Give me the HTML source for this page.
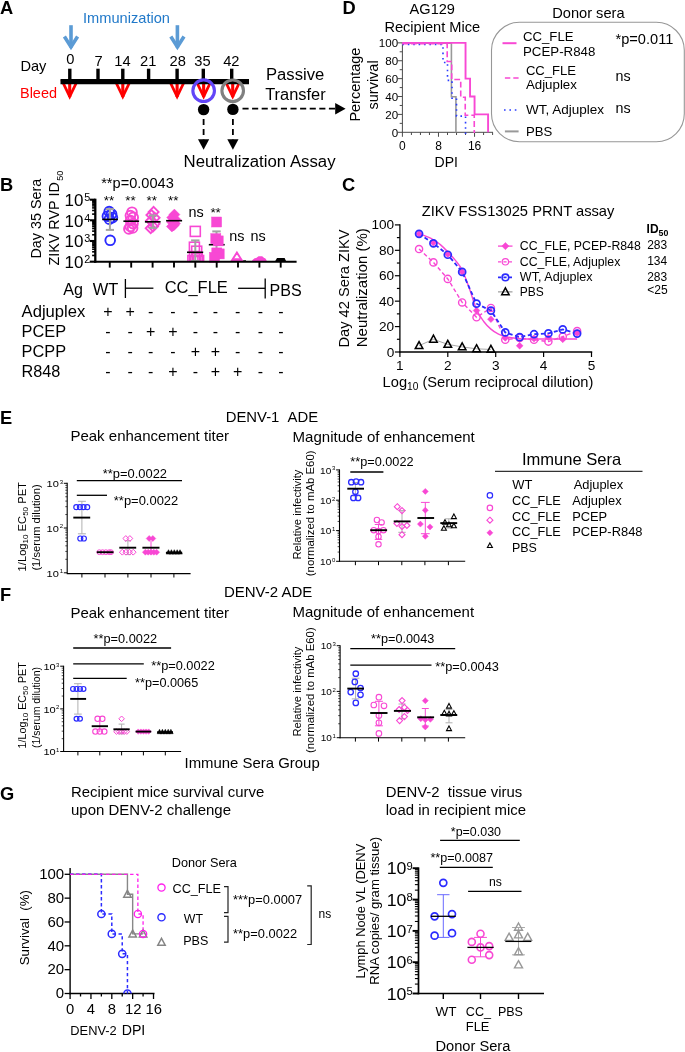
<!DOCTYPE html>
<html><head><meta charset="utf-8"><title>Figure</title>
<style>
html,body{margin:0;padding:0;background:#fff;}
svg{display:block;will-change:transform;}
svg text{font-family:"Liberation Sans",sans-serif;}
</style></head><body>
<svg width="685" height="1052" viewBox="0 0 685 1052">
<rect width="685" height="1052" fill="#fff"/>
<text font-size="18.3" font-weight="bold" x="-0.10" y="13.50">A</text>
<text x="83.00" y="22.60" font-size="14.60" textLength="87.00" lengthAdjust="spacingAndGlyphs" fill="#2179c9">Immunization</text>
<line x1="71.00" y1="25.20" x2="71.00" y2="47.50" stroke="#5b9bd5" stroke-width="3.60"/>
<path d="M64.40,36.5L71.00,46.9L77.60,36.5" fill="none" stroke="#5b9bd5" stroke-width="3.60" stroke-linejoin="miter"/>
<line x1="177.40" y1="25.20" x2="177.40" y2="47.50" stroke="#5b9bd5" stroke-width="3.60"/>
<path d="M170.80,36.5L177.40,46.9L184.00,36.5" fill="none" stroke="#5b9bd5" stroke-width="3.60" stroke-linejoin="miter"/>
<text x="20.40" y="71.40" font-size="14.60" textLength="26.00" lengthAdjust="spacingAndGlyphs">Day</text>
<line x1="69.70" y1="82.00" x2="69.70" y2="97.00" stroke="#ff0000" stroke-width="3.10"/>
<path d="M61.70,80L69.70,96.5L77.70,80" fill="none" stroke="#ff0000" stroke-width="2.80" stroke-linejoin="miter"/>
<line x1="122.80" y1="82.00" x2="122.80" y2="97.00" stroke="#ff0000" stroke-width="3.10"/>
<path d="M114.80,80L122.80,96.5L130.80,80" fill="none" stroke="#ff0000" stroke-width="2.80" stroke-linejoin="miter"/>
<line x1="177.10" y1="82.00" x2="177.10" y2="97.00" stroke="#ff0000" stroke-width="3.10"/>
<path d="M169.10,80L177.10,96.5L185.10,80" fill="none" stroke="#ff0000" stroke-width="2.80" stroke-linejoin="miter"/>
<line x1="203.65" y1="82.00" x2="203.65" y2="97.00" stroke="#ff0000" stroke-width="3.10"/>
<path d="M195.65,80L203.65,96.5L211.65,80" fill="none" stroke="#ff0000" stroke-width="2.80" stroke-linejoin="miter"/>
<line x1="232.70" y1="82.00" x2="232.70" y2="97.00" stroke="#ff0000" stroke-width="3.10"/>
<path d="M224.70,80L232.70,96.5L240.70,80" fill="none" stroke="#ff0000" stroke-width="2.80" stroke-linejoin="miter"/>
<line x1="69.80" y1="68.70" x2="69.80" y2="80.00" stroke="#000" stroke-width="3.40"/>
<text x="70.30" y="63.80" font-size="14.70" text-anchor="middle">0</text>
<line x1="98.00" y1="68.70" x2="98.00" y2="80.00" stroke="#000" stroke-width="3.40"/>
<text x="98.50" y="65.70" font-size="14.70" text-anchor="middle">7</text>
<line x1="122.80" y1="68.70" x2="122.80" y2="80.00" stroke="#000" stroke-width="3.40"/>
<text x="122.40" y="65.70" font-size="14.70" text-anchor="middle">14</text>
<line x1="148.60" y1="68.70" x2="148.60" y2="80.00" stroke="#000" stroke-width="3.40"/>
<text x="148.20" y="66.40" font-size="14.70" text-anchor="middle">21</text>
<line x1="177.10" y1="68.70" x2="177.10" y2="80.00" stroke="#000" stroke-width="3.40"/>
<text x="177.70" y="66.40" font-size="14.70" text-anchor="middle">28</text>
<line x1="203.30" y1="68.70" x2="203.30" y2="80.00" stroke="#000" stroke-width="3.40"/>
<text x="202.50" y="66.40" font-size="14.70" text-anchor="middle">35</text>
<line x1="231.70" y1="68.70" x2="231.70" y2="80.00" stroke="#000" stroke-width="3.40"/>
<text x="231.30" y="66.40" font-size="14.70" text-anchor="middle">42</text>
<line x1="60.50" y1="81.70" x2="249.00" y2="81.70" stroke="#000" stroke-width="5.30"/>
<circle cx="203.65" cy="90.70" r="10.80" fill="none" stroke="#6245f8" stroke-width="3.10"/>
<circle cx="232.70" cy="90.80" r="10.80" fill="none" stroke="#808080" stroke-width="3.10"/>
<text x="20.00" y="98.40" font-size="14.60" textLength="37.00" lengthAdjust="spacingAndGlyphs" fill="#ff0000">Bleed</text>
<circle cx="203.60" cy="109.60" r="5.70" fill="#000" stroke="#000" stroke-width="0.00"/>
<circle cx="232.90" cy="109.40" r="5.70" fill="#000" stroke="#000" stroke-width="0.00"/>
<line x1="242.50" y1="108.70" x2="335.50" y2="108.70" stroke="#000" stroke-width="1.75" stroke-dasharray="6.1,3.5"/>
<path d="M345.6,108.7L335.2,103.0L335.2,114.4Z" fill="#000" stroke="#000" stroke-width="0.00"/>
<line x1="203.60" y1="119.00" x2="203.60" y2="139.50" stroke="#000" stroke-width="1.80" stroke-dasharray="6,4"/>
<path d="M203.60,149.7L198.00,139.3L209.20,139.3Z" fill="#000" stroke="#000" stroke-width="0.00"/>
<line x1="232.90" y1="119.00" x2="232.90" y2="139.50" stroke="#000" stroke-width="1.80" stroke-dasharray="6,4"/>
<path d="M232.90,149.7L227.30,139.3L238.50,139.3Z" fill="#000" stroke="#000" stroke-width="0.00"/>
<text x="266.00" y="79.60" font-size="16.00" textLength="58.20" lengthAdjust="spacingAndGlyphs">Passive</text>
<text x="265.20" y="100.20" font-size="16.00" textLength="60.50" lengthAdjust="spacingAndGlyphs">Transfer</text>
<text x="183.60" y="167.20" font-size="16.00" textLength="152.00" lengthAdjust="spacingAndGlyphs">Neutralization Assay</text>
<text font-size="18.3" font-weight="bold" x="342.50" y="14.00">D</text>
<text x="409.60" y="13.50" font-size="14.50" textLength="45.40" lengthAdjust="spacingAndGlyphs">AG129</text>
<text x="384.40" y="31.80" font-size="14.50" textLength="95.80" lengthAdjust="spacingAndGlyphs">Recipient Mice</text>
<text font-size="14.50" textLength="74.00" lengthAdjust="spacingAndGlyphs" transform="translate(360.30,121.60) rotate(-90)">Percentage</text>
<text font-size="14.50" textLength="49.00" lengthAdjust="spacingAndGlyphs" transform="translate(378.30,109.40) rotate(-90)">survival</text>
<line x1="402.40" y1="42.35" x2="402.40" y2="132.80" stroke="#4a4a4a" stroke-width="1.00"/>
<line x1="401.90" y1="132.30" x2="493.00" y2="132.30" stroke="#4a4a4a" stroke-width="1.00"/>
<line x1="397.90" y1="132.30" x2="402.40" y2="132.30" stroke="#4a4a4a" stroke-width="1.00"/>
<line x1="399.70" y1="123.36" x2="402.40" y2="123.36" stroke="#4a4a4a" stroke-width="1.00"/>
<line x1="397.90" y1="114.41" x2="402.40" y2="114.41" stroke="#4a4a4a" stroke-width="1.00"/>
<line x1="399.70" y1="105.47" x2="402.40" y2="105.47" stroke="#4a4a4a" stroke-width="1.00"/>
<line x1="397.90" y1="96.52" x2="402.40" y2="96.52" stroke="#4a4a4a" stroke-width="1.00"/>
<line x1="399.70" y1="87.58" x2="402.40" y2="87.58" stroke="#4a4a4a" stroke-width="1.00"/>
<line x1="397.90" y1="78.63" x2="402.40" y2="78.63" stroke="#4a4a4a" stroke-width="1.00"/>
<line x1="399.70" y1="69.69" x2="402.40" y2="69.69" stroke="#4a4a4a" stroke-width="1.00"/>
<line x1="397.90" y1="60.74" x2="402.40" y2="60.74" stroke="#4a4a4a" stroke-width="1.00"/>
<line x1="399.70" y1="51.79" x2="402.40" y2="51.79" stroke="#4a4a4a" stroke-width="1.00"/>
<line x1="397.90" y1="42.85" x2="402.40" y2="42.85" stroke="#4a4a4a" stroke-width="1.00"/>
<text x="398.20" y="136.50" font-size="11.60" text-anchor="end">0</text>
<text x="398.20" y="118.61" font-size="11.60" text-anchor="end">20</text>
<text x="398.20" y="100.72" font-size="11.60" text-anchor="end">40</text>
<text x="398.20" y="82.83" font-size="11.60" text-anchor="end">60</text>
<text x="398.20" y="64.94" font-size="11.60" text-anchor="end">80</text>
<text x="398.20" y="47.05" font-size="11.60" text-anchor="end">100</text>
<line x1="402.40" y1="132.30" x2="402.40" y2="136.80" stroke="#4a4a4a" stroke-width="1.00"/>
<line x1="411.42" y1="132.30" x2="411.42" y2="135.00" stroke="#4a4a4a" stroke-width="1.00"/>
<line x1="420.44" y1="132.30" x2="420.44" y2="135.00" stroke="#4a4a4a" stroke-width="1.00"/>
<line x1="429.46" y1="132.30" x2="429.46" y2="135.00" stroke="#4a4a4a" stroke-width="1.00"/>
<line x1="438.48" y1="132.30" x2="438.48" y2="136.80" stroke="#4a4a4a" stroke-width="1.00"/>
<line x1="447.50" y1="132.30" x2="447.50" y2="135.00" stroke="#4a4a4a" stroke-width="1.00"/>
<line x1="456.52" y1="132.30" x2="456.52" y2="135.00" stroke="#4a4a4a" stroke-width="1.00"/>
<line x1="465.54" y1="132.30" x2="465.54" y2="135.00" stroke="#4a4a4a" stroke-width="1.00"/>
<line x1="474.56" y1="132.30" x2="474.56" y2="136.80" stroke="#4a4a4a" stroke-width="1.00"/>
<line x1="483.58" y1="132.30" x2="483.58" y2="135.00" stroke="#4a4a4a" stroke-width="1.00"/>
<line x1="492.60" y1="132.30" x2="492.60" y2="135.00" stroke="#4a4a4a" stroke-width="1.00"/>
<text x="402.40" y="149.60" font-size="12.00" text-anchor="middle">0</text>
<text x="438.48" y="149.60" font-size="12.00" text-anchor="middle">8</text>
<text x="474.56" y="149.60" font-size="12.00" text-anchor="middle">16</text>
<text x="434.60" y="166.70" font-size="14.20" textLength="23.40" lengthAdjust="spacingAndGlyphs">DPI</text>
<path d="M401.80,43.15L451.41,43.15L451.41,96.82L455.92,96.82L455.92,132.60" fill="none" stroke="#999999" stroke-width="1.60" stroke-linejoin="miter"/>
<path d="M402.40,44.55L442.99,44.55L442.99,62.44L447.50,62.44L447.50,80.33L452.01,80.33L452.01,98.22L456.52,98.22L456.52,116.11L465.54,116.11L465.54,134.00" fill="none" stroke="#2a3cff" stroke-width="1.60" stroke-dasharray="1.6,3.8" stroke-linejoin="miter"/>
<path d="M402.10,43.65L447.20,43.65L447.20,61.54L451.71,61.54L451.71,79.43L460.73,79.43L460.73,97.32L465.24,97.32L465.24,115.21L474.26,115.21L474.26,133.10" fill="none" stroke="#f848d4" stroke-width="1.60" stroke-dasharray="5.8,3" stroke-linejoin="miter"/>
<path d="M402.40,42.85L465.54,42.85L465.54,78.63L470.05,78.63L470.05,96.52L474.56,96.52L474.56,114.41L488.09,114.41L488.09,132.30" fill="none" stroke="#f848d4" stroke-width="1.90" stroke-linejoin="miter"/>
<text x="552.20" y="18.10" font-size="14.50" textLength="72.40" lengthAdjust="spacingAndGlyphs">Donor sera</text>
<rect x="491.5" y="22.3" width="192.8" height="119.5" rx="28" ry="28" fill="none" stroke="#979797" stroke-width="1.1"/>
<line x1="502.50" y1="43.20" x2="516.50" y2="43.20" stroke="#f848d4" stroke-width="2.00"/>
<text x="523.00" y="40.90" font-size="13.30" textLength="50.50" lengthAdjust="spacingAndGlyphs">CC_FLE</text>
<text x="523.00" y="55.50" font-size="13.30" textLength="72.40" lengthAdjust="spacingAndGlyphs">PCEP-R848</text>
<text x="615.50" y="44.40" font-size="14.30" textLength="57.80" lengthAdjust="spacingAndGlyphs">*p=0.011</text>
<line x1="504.90" y1="78.00" x2="518.60" y2="78.00" stroke="#f848d4" stroke-width="1.60" stroke-dasharray="5.4,3"/>
<text x="525.90" y="75.30" font-size="13.30" textLength="50.20" lengthAdjust="spacingAndGlyphs">CC_FLE</text>
<text x="525.90" y="89.00" font-size="13.30" textLength="51.00" lengthAdjust="spacingAndGlyphs">Adjuplex</text>
<text x="615.50" y="81.00" font-size="14.30">ns</text>
<line x1="504.00" y1="110.00" x2="518.00" y2="110.00" stroke="#2a3cff" stroke-width="1.60" stroke-dasharray="1.6,3.8"/>
<text x="525.90" y="113.90" font-size="13.30" textLength="78.20" lengthAdjust="spacingAndGlyphs">WT, Adjuplex</text>
<text x="615.50" y="113.00" font-size="14.30">ns</text>
<line x1="504.90" y1="131.40" x2="518.60" y2="131.40" stroke="#999999" stroke-width="2.00"/>
<text x="525.90" y="135.80" font-size="13.30" textLength="26.30" lengthAdjust="spacingAndGlyphs">PBS</text>
<text font-size="18.3" font-weight="bold" x="-0.10" y="191.10">B</text>
<text font-size="14.40" textLength="79.70" lengthAdjust="spacingAndGlyphs" transform="translate(41.30,258.50) rotate(-90)">Day 35 Sera</text>
<text font-size="14.40" textLength="83.40" lengthAdjust="spacingAndGlyphs" transform="translate(59.40,265.60) rotate(-90)">ZIKV RVP ID</text>
<text font-size="9.20" transform="translate(62.90,180.80) rotate(-90)">50</text>
<text x="101.20" y="187.50" font-size="14.60" textLength="72.60" lengthAdjust="spacingAndGlyphs">**p=0.0043</text>
<text x="108.95" y="204.90" font-size="13.40" text-anchor="middle">**</text>
<text x="130.40" y="204.90" font-size="13.40" text-anchor="middle">**</text>
<text x="151.80" y="204.90" font-size="13.40" text-anchor="middle">**</text>
<text x="173.20" y="204.90" font-size="13.40" text-anchor="middle">**</text>
<text x="188.50" y="217.30" font-size="14.40">ns</text>
<text x="210.40" y="216.90" font-size="13.40">**</text>
<text x="229.30" y="241.20" font-size="14.40">ns</text>
<text x="250.60" y="241.20" font-size="14.40">ns</text>
<circle cx="109.20" cy="211.60" r="4.85" fill="none" stroke="#2b2bff" stroke-width="1.90"/>
<circle cx="111.60" cy="214.00" r="4.85" fill="none" stroke="#2b2bff" stroke-width="1.90"/>
<circle cx="107.40" cy="216.20" r="4.85" fill="none" stroke="#2b2bff" stroke-width="1.90"/>
<circle cx="112.40" cy="217.60" r="4.85" fill="none" stroke="#2b2bff" stroke-width="1.90"/>
<circle cx="109.40" cy="219.20" r="4.85" fill="none" stroke="#2b2bff" stroke-width="1.90"/>
<circle cx="110.20" cy="240.30" r="4.85" fill="none" stroke="#2b2bff" stroke-width="1.90"/>
<line x1="109.90" y1="209.10" x2="109.90" y2="229.90" stroke="#a3a3a3" stroke-width="2.00"/>
<line x1="105.80" y1="209.10" x2="114.00" y2="209.10" stroke="#a3a3a3" stroke-width="2.00"/>
<line x1="105.80" y1="229.90" x2="114.00" y2="229.90" stroke="#a3a3a3" stroke-width="2.00"/>
<line x1="102.20" y1="219.40" x2="117.90" y2="219.40" stroke="#000" stroke-width="1.60"/>
<circle cx="132.00" cy="212.20" r="4.85" fill="none" stroke="#f848d4" stroke-width="1.90"/>
<circle cx="130.40" cy="215.60" r="4.85" fill="none" stroke="#f848d4" stroke-width="1.90"/>
<circle cx="133.20" cy="217.40" r="4.85" fill="none" stroke="#f848d4" stroke-width="1.90"/>
<circle cx="130.60" cy="220.60" r="4.85" fill="none" stroke="#f848d4" stroke-width="1.90"/>
<circle cx="133.00" cy="223.60" r="4.85" fill="none" stroke="#f848d4" stroke-width="1.90"/>
<circle cx="130.40" cy="226.40" r="4.85" fill="none" stroke="#f848d4" stroke-width="1.90"/>
<circle cx="128.90" cy="228.90" r="4.85" fill="none" stroke="#f848d4" stroke-width="1.90"/>
<circle cx="132.60" cy="228.00" r="4.85" fill="none" stroke="#f848d4" stroke-width="1.90"/>
<line x1="123.40" y1="221.20" x2="139.10" y2="221.20" stroke="#000" stroke-width="1.60"/>
<path d="M153.60,206.90L158.60,211.90L153.60,216.90L148.60,211.90Z" fill="none" stroke="#f848d4" stroke-width="1.90"/>
<path d="M151.40,210.00L156.40,215.00L151.40,220.00L146.40,215.00Z" fill="none" stroke="#f848d4" stroke-width="1.90"/>
<path d="M154.60,212.80L159.60,217.80L154.60,222.80L149.60,217.80Z" fill="none" stroke="#f848d4" stroke-width="1.90"/>
<path d="M151.00,215.80L156.00,220.80L151.00,225.80L146.00,220.80Z" fill="none" stroke="#f848d4" stroke-width="1.90"/>
<path d="M154.60,218.80L159.60,223.80L154.60,228.80L149.60,223.80Z" fill="none" stroke="#f848d4" stroke-width="1.90"/>
<path d="M153.00,221.40L158.00,226.40L153.00,231.40L148.00,226.40Z" fill="none" stroke="#f848d4" stroke-width="1.90"/>
<path d="M150.70,223.20L155.70,228.20L150.70,233.20L145.70,228.20Z" fill="none" stroke="#f848d4" stroke-width="1.90"/>
<line x1="152.90" y1="215.40" x2="152.90" y2="227.90" stroke="#a3a3a3" stroke-width="2.00"/>
<line x1="148.80" y1="215.40" x2="157.00" y2="215.40" stroke="#a3a3a3" stroke-width="2.00"/>
<line x1="148.80" y1="227.90" x2="157.00" y2="227.90" stroke="#a3a3a3" stroke-width="2.00"/>
<line x1="144.90" y1="221.80" x2="160.60" y2="221.80" stroke="#000" stroke-width="1.70"/>
<path d="M174.40,209.10L179.90,214.60L174.40,220.10L168.90,214.60Z" fill="#f848d4" stroke="#f848d4" stroke-width="0.50"/>
<path d="M172.20,212.10L177.70,217.60L172.20,223.10L166.70,217.60Z" fill="#f848d4" stroke="#f848d4" stroke-width="0.50"/>
<path d="M175.40,213.90L180.90,219.40L175.40,224.90L169.90,219.40Z" fill="#f848d4" stroke="#f848d4" stroke-width="0.50"/>
<path d="M172.00,216.50L177.50,222.00L172.00,227.50L166.50,222.00Z" fill="#f848d4" stroke="#f848d4" stroke-width="0.50"/>
<path d="M175.00,218.10L180.50,223.60L175.00,229.10L169.50,223.60Z" fill="#f848d4" stroke="#f848d4" stroke-width="0.50"/>
<path d="M173.60,219.90L179.10,225.40L173.60,230.90L168.10,225.40Z" fill="#f848d4" stroke="#f848d4" stroke-width="0.50"/>
<path d="M171.90,221.00L177.40,226.50L171.90,232.00L166.40,226.50Z" fill="#f848d4" stroke="#f848d4" stroke-width="0.50"/>
<line x1="166.10" y1="220.70" x2="182.10" y2="220.70" stroke="#000" stroke-width="1.60"/>
<clipPath id="bclip"><rect x="96" y="190" width="205" height="71.8"/></clipPath><g clip-path="url(#bclip)">
<rect x="190.30" y="226.40" width="10.00" height="10.00" fill="none" stroke="#f848d4" stroke-width="1.60"/>
<rect x="189.40" y="242.20" width="10.00" height="10.00" fill="none" stroke="#f848d4" stroke-width="1.60"/>
<rect x="191.70" y="246.20" width="10.00" height="10.00" fill="none" stroke="#f848d4" stroke-width="1.60"/>
<rect x="189.50" y="251.50" width="10.00" height="10.00" fill="none" stroke="#f848d4" stroke-width="1.60"/>
<rect x="192.20" y="253.50" width="10.00" height="10.00" fill="none" stroke="#f848d4" stroke-width="1.60"/>
<rect x="187.90" y="255.50" width="10.00" height="10.00" fill="none" stroke="#f848d4" stroke-width="1.60"/>
<rect x="193.60" y="255.50" width="10.00" height="10.00" fill="none" stroke="#f848d4" stroke-width="1.60"/>
<rect x="190.60" y="256.50" width="10.00" height="10.00" fill="none" stroke="#f848d4" stroke-width="1.60"/>
</g>
<line x1="195.30" y1="240.40" x2="195.30" y2="261.00" stroke="#a3a3a3" stroke-width="2.00"/>
<line x1="191.10" y1="240.40" x2="199.50" y2="240.40" stroke="#a3a3a3" stroke-width="2.00"/>
<line x1="191.10" y1="261.00" x2="199.50" y2="261.00" stroke="#a3a3a3" stroke-width="2.00"/>
<line x1="187.00" y1="252.30" x2="203.20" y2="252.30" stroke="#000" stroke-width="1.60"/>
<line x1="216.50" y1="231.40" x2="216.50" y2="258.00" stroke="#a3a3a3" stroke-width="2.00"/>
<line x1="212.30" y1="231.40" x2="220.70" y2="231.40" stroke="#a3a3a3" stroke-width="2.00"/>
<line x1="212.30" y1="258.00" x2="220.70" y2="258.00" stroke="#a3a3a3" stroke-width="2.00"/>
<line x1="208.80" y1="244.70" x2="224.70" y2="244.70" stroke="#000" stroke-width="1.60"/>
<rect x="211.60" y="217.00" width="10.00" height="10.00" fill="#f848d4" stroke="#f848d4" stroke-width="0.50"/>
<rect x="210.80" y="233.70" width="10.00" height="10.00" fill="#f848d4" stroke="#f848d4" stroke-width="0.50"/>
<rect x="213.20" y="235.90" width="10.00" height="10.00" fill="#f848d4" stroke="#f848d4" stroke-width="0.50"/>
<rect x="211.80" y="247.90" width="10.00" height="10.00" fill="#f848d4" stroke="#f848d4" stroke-width="0.50"/>
<rect x="214.20" y="248.90" width="10.00" height="10.00" fill="#f848d4" stroke="#f848d4" stroke-width="0.50"/>
<rect x="209.50" y="252.40" width="10.00" height="10.00" fill="#f848d4" stroke="#f848d4" stroke-width="0.50"/>
<path d="M236.9,252.6L242.0,260.5L231.8,260.5Z" fill="none" stroke="#f848d4" stroke-width="1.90" stroke-linejoin="miter"/>
<path d="M233.2,258.2L240.6,258.2L242.6,261.6L231.2,261.6Z" fill="#f848d4" stroke="#f848d4" stroke-width="0.00"/>
<line x1="243.20" y1="261.00" x2="246.00" y2="261.00" stroke="#000" stroke-width="1.40"/>
<path d="M252.2,261.8L252.2,260.2L254.6,258.3L256.2,258.1L258.5,256.2L262.2,256.2L264.2,258.1L265.2,258.3L266.6,260.2L266.6,261.8Z" fill="#f848d4" stroke="#f848d4" stroke-width="0.00"/>
<path d="M274.8,261.8L277.0,258.1L284.6,258.1L286.4,261.8Z" fill="#000" stroke="#000" stroke-width="0.00"/>
<line x1="95.30" y1="198.70" x2="95.30" y2="262.70" stroke="#000" stroke-width="2.30"/>
<line x1="94.20" y1="261.80" x2="296.60" y2="261.80" stroke="#000" stroke-width="1.90"/>
<line x1="95.30" y1="199.70" x2="89.70" y2="199.70" stroke="#000" stroke-width="2.10"/>
<line x1="95.30" y1="214.10" x2="92.10" y2="214.10" stroke="#000" stroke-width="1.60"/>
<line x1="95.30" y1="210.47" x2="92.10" y2="210.47" stroke="#000" stroke-width="1.60"/>
<line x1="95.30" y1="207.90" x2="92.10" y2="207.90" stroke="#000" stroke-width="1.60"/>
<line x1="95.30" y1="205.90" x2="92.10" y2="205.90" stroke="#000" stroke-width="1.60"/>
<line x1="95.30" y1="204.27" x2="92.10" y2="204.27" stroke="#000" stroke-width="1.60"/>
<line x1="95.30" y1="202.89" x2="92.10" y2="202.89" stroke="#000" stroke-width="1.60"/>
<line x1="95.30" y1="201.70" x2="92.10" y2="201.70" stroke="#000" stroke-width="1.60"/>
<line x1="95.30" y1="200.64" x2="92.10" y2="200.64" stroke="#000" stroke-width="1.60"/>
<line x1="95.30" y1="220.30" x2="89.70" y2="220.30" stroke="#000" stroke-width="2.10"/>
<line x1="95.30" y1="234.77" x2="92.10" y2="234.77" stroke="#000" stroke-width="1.60"/>
<line x1="95.30" y1="231.12" x2="92.10" y2="231.12" stroke="#000" stroke-width="1.60"/>
<line x1="95.30" y1="228.54" x2="92.10" y2="228.54" stroke="#000" stroke-width="1.60"/>
<line x1="95.30" y1="226.53" x2="92.10" y2="226.53" stroke="#000" stroke-width="1.60"/>
<line x1="95.30" y1="224.89" x2="92.10" y2="224.89" stroke="#000" stroke-width="1.60"/>
<line x1="95.30" y1="223.51" x2="92.10" y2="223.51" stroke="#000" stroke-width="1.60"/>
<line x1="95.30" y1="222.31" x2="92.10" y2="222.31" stroke="#000" stroke-width="1.60"/>
<line x1="95.30" y1="221.25" x2="92.10" y2="221.25" stroke="#000" stroke-width="1.60"/>
<line x1="95.30" y1="241.00" x2="89.70" y2="241.00" stroke="#000" stroke-width="2.10"/>
<line x1="95.30" y1="255.47" x2="92.10" y2="255.47" stroke="#000" stroke-width="1.60"/>
<line x1="95.30" y1="251.82" x2="92.10" y2="251.82" stroke="#000" stroke-width="1.60"/>
<line x1="95.30" y1="249.24" x2="92.10" y2="249.24" stroke="#000" stroke-width="1.60"/>
<line x1="95.30" y1="247.23" x2="92.10" y2="247.23" stroke="#000" stroke-width="1.60"/>
<line x1="95.30" y1="245.59" x2="92.10" y2="245.59" stroke="#000" stroke-width="1.60"/>
<line x1="95.30" y1="244.21" x2="92.10" y2="244.21" stroke="#000" stroke-width="1.60"/>
<line x1="95.30" y1="243.01" x2="92.10" y2="243.01" stroke="#000" stroke-width="1.60"/>
<line x1="95.30" y1="241.95" x2="92.10" y2="241.95" stroke="#000" stroke-width="1.60"/>
<line x1="95.30" y1="261.70" x2="89.70" y2="261.70" stroke="#000" stroke-width="2.10"/>
<text x="64.50" y="206.00" font-size="15.80" textLength="18.90" lengthAdjust="spacingAndGlyphs">10</text>
<text x="84.20" y="200.90" font-size="10.80">5</text>
<text x="64.50" y="226.60" font-size="15.80" textLength="18.90" lengthAdjust="spacingAndGlyphs">10</text>
<text x="84.20" y="221.50" font-size="10.80">4</text>
<text x="64.50" y="247.30" font-size="15.80" textLength="18.90" lengthAdjust="spacingAndGlyphs">10</text>
<text x="84.20" y="242.20" font-size="10.80">3</text>
<text x="64.50" y="268.00" font-size="15.80" textLength="18.90" lengthAdjust="spacingAndGlyphs">10</text>
<text x="84.20" y="262.90" font-size="10.80">2</text>
<line x1="109.75" y1="261.70" x2="109.75" y2="267.60" stroke="#000" stroke-width="1.90"/>
<line x1="131.20" y1="261.70" x2="131.20" y2="267.60" stroke="#000" stroke-width="1.90"/>
<line x1="152.60" y1="261.70" x2="152.60" y2="267.60" stroke="#000" stroke-width="1.90"/>
<line x1="174.00" y1="261.70" x2="174.00" y2="267.60" stroke="#000" stroke-width="1.90"/>
<line x1="195.30" y1="261.70" x2="195.30" y2="267.60" stroke="#000" stroke-width="1.90"/>
<line x1="216.70" y1="261.70" x2="216.70" y2="267.60" stroke="#000" stroke-width="1.90"/>
<line x1="238.00" y1="261.70" x2="238.00" y2="267.60" stroke="#000" stroke-width="1.90"/>
<line x1="259.40" y1="261.70" x2="259.40" y2="267.60" stroke="#000" stroke-width="1.90"/>
<line x1="280.70" y1="261.70" x2="280.70" y2="267.60" stroke="#000" stroke-width="1.90"/>
<text x="63.20" y="295.10" font-size="16.00" textLength="19.70" lengthAdjust="spacingAndGlyphs">Ag</text>
<text x="92.80" y="295.10" font-size="16.00" textLength="25.60" lengthAdjust="spacingAndGlyphs">WT</text>
<line x1="125.40" y1="279.00" x2="125.40" y2="298.00" stroke="#000" stroke-width="1.30"/>
<line x1="125.40" y1="288.20" x2="153.40" y2="288.20" stroke="#000" stroke-width="1.30"/>
<text x="164.70" y="293.40" font-size="16.00" textLength="63.10" lengthAdjust="spacingAndGlyphs">CC_FLE</text>
<line x1="238.10" y1="288.30" x2="265.20" y2="288.30" stroke="#000" stroke-width="1.30"/>
<line x1="265.20" y1="278.50" x2="265.20" y2="298.40" stroke="#000" stroke-width="1.30"/>
<text x="269.60" y="295.60" font-size="16.00" textLength="32.20" lengthAdjust="spacingAndGlyphs">PBS</text>
<text x="21.60" y="316.60" font-size="16.00" textLength="63.70" lengthAdjust="spacingAndGlyphs">Adjuplex</text>
<text x="108.00" y="316.90" font-size="16.00" text-anchor="middle">+</text>
<text x="130.10" y="316.90" font-size="16.00" text-anchor="middle">+</text>
<text x="150.70" y="316.90" font-size="16.00" text-anchor="middle">-</text>
<text x="172.90" y="316.90" font-size="16.00" text-anchor="middle">-</text>
<text x="195.50" y="316.90" font-size="16.00" text-anchor="middle">-</text>
<text x="215.40" y="316.90" font-size="16.00" text-anchor="middle">-</text>
<text x="237.60" y="316.90" font-size="16.00" text-anchor="middle">-</text>
<text x="260.30" y="316.90" font-size="16.00" text-anchor="middle">-</text>
<text x="280.80" y="316.90" font-size="16.00" text-anchor="middle">-</text>
<text x="21.60" y="336.50" font-size="16.00" textLength="44.50" lengthAdjust="spacingAndGlyphs">PCEP</text>
<text x="108.00" y="336.80" font-size="16.00" text-anchor="middle">-</text>
<text x="130.10" y="336.80" font-size="16.00" text-anchor="middle">-</text>
<text x="150.70" y="336.80" font-size="16.00" text-anchor="middle">+</text>
<text x="172.90" y="336.80" font-size="16.00" text-anchor="middle">+</text>
<text x="195.50" y="336.80" font-size="16.00" text-anchor="middle">-</text>
<text x="215.40" y="336.80" font-size="16.00" text-anchor="middle">-</text>
<text x="237.60" y="336.80" font-size="16.00" text-anchor="middle">-</text>
<text x="260.30" y="336.80" font-size="16.00" text-anchor="middle">-</text>
<text x="280.80" y="336.80" font-size="16.00" text-anchor="middle">-</text>
<text x="21.60" y="356.50" font-size="16.00" textLength="44.50" lengthAdjust="spacingAndGlyphs">PCPP</text>
<text x="108.00" y="356.80" font-size="16.00" text-anchor="middle">-</text>
<text x="130.10" y="356.80" font-size="16.00" text-anchor="middle">-</text>
<text x="150.70" y="356.80" font-size="16.00" text-anchor="middle">-</text>
<text x="172.90" y="356.80" font-size="16.00" text-anchor="middle">-</text>
<text x="195.50" y="356.80" font-size="16.00" text-anchor="middle">+</text>
<text x="215.40" y="356.80" font-size="16.00" text-anchor="middle">+</text>
<text x="237.60" y="356.80" font-size="16.00" text-anchor="middle">-</text>
<text x="260.30" y="356.80" font-size="16.00" text-anchor="middle">-</text>
<text x="280.80" y="356.80" font-size="16.00" text-anchor="middle">-</text>
<text x="21.60" y="376.60" font-size="16.00" textLength="38.80" lengthAdjust="spacingAndGlyphs">R848</text>
<text x="108.00" y="376.90" font-size="16.00" text-anchor="middle">-</text>
<text x="130.10" y="376.90" font-size="16.00" text-anchor="middle">-</text>
<text x="150.70" y="376.90" font-size="16.00" text-anchor="middle">-</text>
<text x="172.90" y="376.90" font-size="16.00" text-anchor="middle">+</text>
<text x="195.50" y="376.90" font-size="16.00" text-anchor="middle">-</text>
<text x="215.40" y="376.90" font-size="16.00" text-anchor="middle">+</text>
<text x="237.60" y="376.90" font-size="16.00" text-anchor="middle">+</text>
<text x="260.30" y="376.90" font-size="16.00" text-anchor="middle">-</text>
<text x="280.80" y="376.90" font-size="16.00" text-anchor="middle">-</text>
<text font-size="18.3" font-weight="bold" x="342.10" y="191.40">C</text>
<text x="421.80" y="216.30" font-size="14.60" textLength="192.60" lengthAdjust="spacingAndGlyphs">ZIKV FSS13025 PRNT assay</text>
<text font-size="14.60" textLength="118.20" lengthAdjust="spacingAndGlyphs" transform="translate(348.60,347.60) rotate(-90)">Day 42 Sera ZIKV</text>
<text font-size="14.60" textLength="118.90" lengthAdjust="spacingAndGlyphs" transform="translate(366.90,347.20) rotate(-90)">Neutralization (%)</text>
<line x1="399.90" y1="224.30" x2="399.90" y2="352.60" stroke="#000" stroke-width="1.30"/>
<line x1="399.30" y1="352.00" x2="592.20" y2="352.00" stroke="#000" stroke-width="1.30"/>
<line x1="394.90" y1="352.00" x2="399.90" y2="352.00" stroke="#000" stroke-width="1.20"/>
<line x1="396.90" y1="339.29" x2="399.90" y2="339.29" stroke="#000" stroke-width="1.20"/>
<line x1="394.90" y1="326.58" x2="399.90" y2="326.58" stroke="#000" stroke-width="1.20"/>
<line x1="396.90" y1="313.87" x2="399.90" y2="313.87" stroke="#000" stroke-width="1.20"/>
<line x1="394.90" y1="301.16" x2="399.90" y2="301.16" stroke="#000" stroke-width="1.20"/>
<line x1="396.90" y1="288.45" x2="399.90" y2="288.45" stroke="#000" stroke-width="1.20"/>
<line x1="394.90" y1="275.74" x2="399.90" y2="275.74" stroke="#000" stroke-width="1.20"/>
<line x1="396.90" y1="263.03" x2="399.90" y2="263.03" stroke="#000" stroke-width="1.20"/>
<line x1="394.90" y1="250.32" x2="399.90" y2="250.32" stroke="#000" stroke-width="1.20"/>
<line x1="396.90" y1="237.61" x2="399.90" y2="237.61" stroke="#000" stroke-width="1.20"/>
<line x1="394.90" y1="224.90" x2="399.90" y2="224.90" stroke="#000" stroke-width="1.20"/>
<text x="394.20" y="356.50" font-size="13.60" text-anchor="end">0</text>
<text x="394.20" y="331.08" font-size="13.60" text-anchor="end">20</text>
<text x="394.20" y="305.66" font-size="13.60" text-anchor="end">40</text>
<text x="394.20" y="280.24" font-size="13.60" text-anchor="end">60</text>
<text x="394.20" y="254.82" font-size="13.60" text-anchor="end">80</text>
<text x="394.20" y="229.40" font-size="13.60" text-anchor="end">100</text>
<line x1="399.90" y1="352.00" x2="399.90" y2="357.00" stroke="#000" stroke-width="1.20"/>
<text x="399.90" y="370.10" font-size="13.60" text-anchor="middle">1</text>
<line x1="447.80" y1="352.00" x2="447.80" y2="357.00" stroke="#000" stroke-width="1.20"/>
<text x="447.80" y="370.10" font-size="13.60" text-anchor="middle">2</text>
<line x1="495.70" y1="352.00" x2="495.70" y2="357.00" stroke="#000" stroke-width="1.20"/>
<text x="495.70" y="370.10" font-size="13.60" text-anchor="middle">3</text>
<line x1="543.60" y1="352.00" x2="543.60" y2="357.00" stroke="#000" stroke-width="1.20"/>
<text x="543.60" y="370.10" font-size="13.60" text-anchor="middle">4</text>
<line x1="591.50" y1="352.00" x2="591.50" y2="357.00" stroke="#000" stroke-width="1.20"/>
<text x="591.50" y="370.10" font-size="13.60" text-anchor="middle">5</text>
<text x="382.6" y="386.8" font-size="14.7" textLength="210.8" lengthAdjust="spacingAndGlyphs">Log<tspan font-size="10.2" dy="3">10</tspan><tspan dy="-3"> (Serum reciprocal dilution)</tspan></text>
<path d="M419.06,345.64L433.43,339.29L447.80,344.37L462.17,346.92L476.54,348.82L490.91,349.46" fill="none" stroke="#aaaaaa" stroke-width="1.00"/>
<path d="M419.06,233.42C420.26,233.90 423.85,235.28 426.25,236.34C428.64,237.40 431.03,238.35 433.43,239.77C435.82,241.19 438.22,242.84 440.62,244.85C443.01,246.87 445.40,249.35 447.80,251.85C450.19,254.34 452.59,256.82 454.98,259.85C457.38,262.88 459.77,265.25 462.17,270.02C464.56,274.79 466.96,281.88 469.36,288.45C471.75,295.02 474.14,303.91 476.54,309.42C478.93,314.93 481.33,318.21 483.72,321.50C486.12,324.78 488.51,327.05 490.91,329.12C493.30,331.20 495.70,332.68 498.09,333.95C500.49,335.22 501.69,335.94 505.28,336.75C508.87,337.55 514.86,338.40 519.65,338.78C524.44,339.16 524.44,338.99 534.02,339.04C543.60,339.08 569.94,339.04 577.13,339.04" fill="none" stroke="#f848d4" stroke-width="1.40"/>
<path d="M419.06,249.05L433.43,262.39L447.80,278.92L462.17,302.43L476.54,317.30L490.91,308.02L505.28,339.80L519.65,337.89L534.02,339.80L548.39,341.58L562.76,336.62L577.13,331.16" fill="none" stroke="#f848d4" stroke-width="1.40" stroke-dasharray="4,2.6"/>
<path d="M419.06,233.80L433.43,243.33L447.80,254.77L462.17,271.93L476.54,303.70L490.91,310.57L505.28,332.43L519.65,337.13L534.02,334.21L548.39,333.44L562.76,329.38L577.13,333.57" fill="none" stroke="#2b2bff" stroke-width="1.80" stroke-dasharray="4,2.6"/>
<path d="M419.06,230.40L422.46,233.80L419.06,237.20L415.66,233.80Z" fill="#f848d4" stroke="#f848d4" stroke-width="0.50"/>
<path d="M433.43,239.29L436.83,242.69L433.43,246.09L430.03,242.69Z" fill="#f848d4" stroke="#f848d4" stroke-width="0.50"/>
<path d="M447.80,250.73L451.20,254.13L447.80,257.53L444.40,254.13Z" fill="#f848d4" stroke="#f848d4" stroke-width="0.50"/>
<path d="M462.17,268.53L465.57,271.93L462.17,275.33L458.77,271.93Z" fill="#f848d4" stroke="#f848d4" stroke-width="0.50"/>
<path d="M476.54,307.17L479.94,310.57L476.54,313.97L473.14,310.57Z" fill="#f848d4" stroke="#f848d4" stroke-width="0.50"/>
<path d="M490.91,315.81L494.31,319.21L490.91,322.61L487.51,319.21Z" fill="#f848d4" stroke="#f848d4" stroke-width="0.50"/>
<path d="M505.28,334.49L508.68,337.89L505.28,341.29L501.88,337.89Z" fill="#f848d4" stroke="#f848d4" stroke-width="0.50"/>
<path d="M519.65,342.37L523.05,345.77L519.65,349.17L516.25,345.77Z" fill="#f848d4" stroke="#f848d4" stroke-width="0.50"/>
<path d="M534.02,335.25L537.42,338.65L534.02,342.05L530.62,338.65Z" fill="#f848d4" stroke="#f848d4" stroke-width="0.50"/>
<path d="M548.39,333.98L551.79,337.38L548.39,340.78L544.99,337.38Z" fill="#f848d4" stroke="#f848d4" stroke-width="0.50"/>
<path d="M562.76,335.89L566.16,339.29L562.76,342.69L559.36,339.29Z" fill="#f848d4" stroke="#f848d4" stroke-width="0.50"/>
<path d="M577.13,329.54L580.53,332.94L577.13,336.33L573.73,332.94Z" fill="#f848d4" stroke="#f848d4" stroke-width="0.50"/>
<circle cx="419.06" cy="249.05" r="3.60" fill="none" stroke="#f848d4" stroke-width="1.40"/>
<circle cx="433.43" cy="262.39" r="3.60" fill="none" stroke="#f848d4" stroke-width="1.40"/>
<circle cx="447.80" cy="278.92" r="3.60" fill="none" stroke="#f848d4" stroke-width="1.40"/>
<circle cx="462.17" cy="302.43" r="3.60" fill="none" stroke="#f848d4" stroke-width="1.40"/>
<circle cx="476.54" cy="317.30" r="3.60" fill="none" stroke="#f848d4" stroke-width="1.40"/>
<circle cx="490.91" cy="308.02" r="3.60" fill="none" stroke="#f848d4" stroke-width="1.40"/>
<circle cx="505.28" cy="339.80" r="3.60" fill="none" stroke="#f848d4" stroke-width="1.40"/>
<circle cx="519.65" cy="337.89" r="3.60" fill="none" stroke="#f848d4" stroke-width="1.40"/>
<circle cx="534.02" cy="339.80" r="3.60" fill="none" stroke="#f848d4" stroke-width="1.40"/>
<circle cx="548.39" cy="341.58" r="3.60" fill="none" stroke="#f848d4" stroke-width="1.40"/>
<circle cx="562.76" cy="336.62" r="3.60" fill="none" stroke="#f848d4" stroke-width="1.40"/>
<circle cx="577.13" cy="331.16" r="3.60" fill="none" stroke="#f848d4" stroke-width="1.40"/>
<circle cx="419.06" cy="233.80" r="3.50" fill="none" stroke="#2b2bff" stroke-width="1.70"/>
<circle cx="433.43" cy="243.33" r="3.50" fill="none" stroke="#2b2bff" stroke-width="1.70"/>
<circle cx="447.80" cy="254.77" r="3.50" fill="none" stroke="#2b2bff" stroke-width="1.70"/>
<circle cx="462.17" cy="271.93" r="3.50" fill="none" stroke="#2b2bff" stroke-width="1.70"/>
<circle cx="476.54" cy="303.70" r="3.50" fill="none" stroke="#2b2bff" stroke-width="1.70"/>
<circle cx="490.91" cy="310.57" r="3.50" fill="none" stroke="#2b2bff" stroke-width="1.70"/>
<circle cx="505.28" cy="332.43" r="3.50" fill="none" stroke="#2b2bff" stroke-width="1.70"/>
<circle cx="519.65" cy="337.13" r="3.50" fill="none" stroke="#2b2bff" stroke-width="1.70"/>
<circle cx="534.02" cy="334.21" r="3.50" fill="none" stroke="#2b2bff" stroke-width="1.70"/>
<circle cx="548.39" cy="333.44" r="3.50" fill="none" stroke="#2b2bff" stroke-width="1.70"/>
<circle cx="562.76" cy="329.38" r="3.50" fill="none" stroke="#2b2bff" stroke-width="1.70"/>
<circle cx="577.13" cy="333.57" r="3.50" fill="none" stroke="#2b2bff" stroke-width="1.70"/>
<path d="M419.06,341.54L422.86,348.54L415.26,348.54Z" fill="none" stroke="#000" stroke-width="1.50" stroke-linejoin="miter"/>
<path d="M433.43,335.19L437.23,342.19L429.63,342.19Z" fill="none" stroke="#000" stroke-width="1.50" stroke-linejoin="miter"/>
<path d="M447.80,340.27L451.60,347.27L444.00,347.27Z" fill="none" stroke="#000" stroke-width="1.50" stroke-linejoin="miter"/>
<path d="M462.17,342.82L465.97,349.82L458.37,349.82Z" fill="none" stroke="#000" stroke-width="1.50" stroke-linejoin="miter"/>
<path d="M476.54,344.72L480.34,351.72L472.74,351.72Z" fill="none" stroke="#000" stroke-width="1.50" stroke-linejoin="miter"/>
<path d="M490.91,345.36L494.71,352.36L487.11,352.36Z" fill="none" stroke="#000" stroke-width="1.50" stroke-linejoin="miter"/>
<line x1="498.00" y1="246.10" x2="512.50" y2="246.10" stroke="#f848d4" stroke-width="1.30"/>
<path d="M505.40,242.50L509.00,246.10L505.40,249.70L501.80,246.10Z" fill="#f848d4" stroke="#f848d4" stroke-width="0.50"/>
<line x1="498.00" y1="261.80" x2="512.50" y2="261.80" stroke="#f848d4" stroke-width="1.30" stroke-dasharray="3.2,2.2"/>
<circle cx="505.40" cy="261.80" r="3.20" fill="none" stroke="#f848d4" stroke-width="1.20"/>
<line x1="498.00" y1="277.40" x2="512.50" y2="277.40" stroke="#2b2bff" stroke-width="1.60" stroke-dasharray="3.2,2.2"/>
<circle cx="505.40" cy="277.40" r="3.30" fill="none" stroke="#2b2bff" stroke-width="1.60"/>
<line x1="498.00" y1="291.90" x2="512.50" y2="291.90" stroke="#888" stroke-width="1.00"/>
<path d="M505.40,287.90L509.10,294.70L501.70,294.70Z" fill="none" stroke="#000" stroke-width="1.50" stroke-linejoin="miter"/>
<text x="519.80" y="250.30" font-size="12.30" textLength="121.00" lengthAdjust="spacingAndGlyphs">CC_FLE, PCEP-R848</text>
<text x="519.80" y="265.60" font-size="12.30" textLength="100.50" lengthAdjust="spacingAndGlyphs">CC_FLE, Adjuplex</text>
<text x="519.80" y="280.90" font-size="12.30" textLength="72.70" lengthAdjust="spacingAndGlyphs">WT, Adjuplex</text>
<text x="519.80" y="295.70" font-size="12.30" textLength="24.00" lengthAdjust="spacingAndGlyphs">PBS</text>
<text x="646.6" y="233.4" font-size="12" font-weight="bold">ID<tspan font-size="8.8" dy="2.6">50</tspan></text>
<text x="647.20" y="249.10" font-size="12.00" textLength="20.00" lengthAdjust="spacingAndGlyphs">283</text>
<text x="647.20" y="265.30" font-size="12.00" textLength="20.00" lengthAdjust="spacingAndGlyphs">134</text>
<text x="647.20" y="280.50" font-size="12.00" textLength="20.00" lengthAdjust="spacingAndGlyphs">283</text>
<text x="647.20" y="294.40" font-size="12.00" textLength="20.50" lengthAdjust="spacingAndGlyphs">&lt;25</text>
<text font-size="18.3" font-weight="bold" x="-0.10" y="424.00">E</text>
<text x="225.70" y="421.90" font-size="14.60" textLength="92.50" lengthAdjust="spacingAndGlyphs">DENV-1&#160;&#160;ADE</text>
<text x="70.40" y="441.00" font-size="14.60" textLength="158.60" lengthAdjust="spacingAndGlyphs">Peak enhancement titer</text>
<text x="292.50" y="442.10" font-size="14.60" textLength="182.30" lengthAdjust="spacingAndGlyphs">Magnitude of enhancement</text>
<text font-size="11.2" transform="translate(25.9,571.4) rotate(-90)">1/Log<tspan font-size="8" dy="2.4">10</tspan><tspan dy="-2.4"> EC</tspan><tspan font-size="8" dy="2.4">50</tspan><tspan dy="-2.4"> PET</tspan></text>
<text font-size="11.20" textLength="86.30" lengthAdjust="spacingAndGlyphs" transform="translate(39.90,570.60) rotate(-90)">(1/serum dilution)</text>
<line x1="67.20" y1="482.80" x2="67.20" y2="573.30" stroke="#000" stroke-width="1.10"/>
<line x1="67.20" y1="483.30" x2="63.80" y2="483.30" stroke="#000" stroke-width="1.00"/>
<line x1="67.20" y1="514.54" x2="65.30" y2="514.54" stroke="#000" stroke-width="0.70"/>
<line x1="67.20" y1="506.67" x2="65.30" y2="506.67" stroke="#000" stroke-width="0.70"/>
<line x1="67.20" y1="501.09" x2="65.30" y2="501.09" stroke="#000" stroke-width="0.70"/>
<line x1="67.20" y1="496.76" x2="65.30" y2="496.76" stroke="#000" stroke-width="0.70"/>
<line x1="67.20" y1="493.22" x2="65.30" y2="493.22" stroke="#000" stroke-width="0.70"/>
<line x1="67.20" y1="490.22" x2="65.30" y2="490.22" stroke="#000" stroke-width="0.70"/>
<line x1="67.20" y1="487.63" x2="65.30" y2="487.63" stroke="#000" stroke-width="0.70"/>
<line x1="67.20" y1="485.35" x2="65.30" y2="485.35" stroke="#000" stroke-width="0.70"/>
<line x1="67.20" y1="528.00" x2="63.80" y2="528.00" stroke="#000" stroke-width="1.00"/>
<line x1="67.20" y1="559.31" x2="65.30" y2="559.31" stroke="#000" stroke-width="0.70"/>
<line x1="67.20" y1="551.42" x2="65.30" y2="551.42" stroke="#000" stroke-width="0.70"/>
<line x1="67.20" y1="545.83" x2="65.30" y2="545.83" stroke="#000" stroke-width="0.70"/>
<line x1="67.20" y1="541.49" x2="65.30" y2="541.49" stroke="#000" stroke-width="0.70"/>
<line x1="67.20" y1="537.94" x2="65.30" y2="537.94" stroke="#000" stroke-width="0.70"/>
<line x1="67.20" y1="534.94" x2="65.30" y2="534.94" stroke="#000" stroke-width="0.70"/>
<line x1="67.20" y1="532.34" x2="65.30" y2="532.34" stroke="#000" stroke-width="0.70"/>
<line x1="67.20" y1="530.05" x2="65.30" y2="530.05" stroke="#000" stroke-width="0.70"/>
<line x1="67.20" y1="572.80" x2="63.80" y2="572.80" stroke="#000" stroke-width="1.00"/>
<text x="46.60" y="487.00" font-size="9.80" textLength="12.30" lengthAdjust="spacingAndGlyphs">10</text>
<text x="59.70" y="483.70" font-size="6.00">3</text>
<text x="46.60" y="531.70" font-size="9.80" textLength="12.30" lengthAdjust="spacingAndGlyphs">10</text>
<text x="59.70" y="528.40" font-size="6.00">2</text>
<text x="46.60" y="576.50" font-size="9.80" textLength="12.30" lengthAdjust="spacingAndGlyphs">10</text>
<text x="59.70" y="573.20" font-size="6.00">1</text>
<line x1="66.70" y1="573.60" x2="190.60" y2="573.60" stroke="#000" stroke-width="1.10"/>
<line x1="81.90" y1="573.60" x2="81.90" y2="577.50" stroke="#000" stroke-width="1.00"/>
<line x1="105.00" y1="573.60" x2="105.00" y2="577.50" stroke="#000" stroke-width="1.00"/>
<line x1="127.90" y1="573.60" x2="127.90" y2="577.50" stroke="#000" stroke-width="1.00"/>
<line x1="151.00" y1="573.60" x2="151.00" y2="577.50" stroke="#000" stroke-width="1.00"/>
<line x1="173.90" y1="573.60" x2="173.90" y2="577.50" stroke="#000" stroke-width="1.00"/>
<line x1="76.80" y1="480.70" x2="182.00" y2="480.70" stroke="#000" stroke-width="1.30"/>
<text x="102.80" y="478.20" font-size="12.90" textLength="64.20" lengthAdjust="spacingAndGlyphs">**p=0.0022</text>
<line x1="76.80" y1="495.30" x2="107.00" y2="495.30" stroke="#000" stroke-width="1.30"/>
<text x="113.80" y="505.20" font-size="12.90" textLength="64.50" lengthAdjust="spacingAndGlyphs">**p=0.0022</text>
<line x1="81.90" y1="501.30" x2="81.90" y2="533.80" stroke="#b0b0b0" stroke-width="1.00"/>
<line x1="77.90" y1="501.30" x2="85.90" y2="501.30" stroke="#b0b0b0" stroke-width="1.00"/>
<line x1="77.90" y1="533.80" x2="85.90" y2="533.80" stroke="#b0b0b0" stroke-width="1.00"/>
<circle cx="76.30" cy="507.20" r="2.50" fill="none" stroke="#2b2bff" stroke-width="1.20"/>
<circle cx="79.90" cy="507.20" r="2.50" fill="none" stroke="#2b2bff" stroke-width="1.20"/>
<circle cx="83.50" cy="507.20" r="2.50" fill="none" stroke="#2b2bff" stroke-width="1.20"/>
<circle cx="87.20" cy="507.20" r="2.50" fill="none" stroke="#2b2bff" stroke-width="1.20"/>
<circle cx="80.30" cy="538.50" r="2.50" fill="none" stroke="#2b2bff" stroke-width="1.20"/>
<circle cx="83.90" cy="538.50" r="2.50" fill="none" stroke="#2b2bff" stroke-width="1.20"/>
<line x1="73.30" y1="517.60" x2="90.20" y2="517.60" stroke="#000" stroke-width="1.90"/>
<circle cx="99.30" cy="552.20" r="2.40" fill="none" stroke="#f848d4" stroke-width="1.00"/>
<circle cx="102.60" cy="552.20" r="2.40" fill="none" stroke="#f848d4" stroke-width="1.00"/>
<circle cx="105.90" cy="552.20" r="2.40" fill="none" stroke="#f848d4" stroke-width="1.00"/>
<circle cx="109.20" cy="552.20" r="2.40" fill="none" stroke="#f848d4" stroke-width="1.00"/>
<circle cx="111.00" cy="552.20" r="2.40" fill="none" stroke="#f848d4" stroke-width="1.00"/>
<line x1="96.80" y1="552.20" x2="113.50" y2="552.20" stroke="#000" stroke-width="1.90"/>
<line x1="127.90" y1="540.80" x2="127.90" y2="554.60" stroke="#b0b0b0" stroke-width="1.00"/>
<line x1="124.90" y1="540.80" x2="130.90" y2="540.80" stroke="#b0b0b0" stroke-width="1.00"/>
<line x1="124.90" y1="554.60" x2="130.90" y2="554.60" stroke="#b0b0b0" stroke-width="1.00"/>
<path d="M125.80,535.60L128.70,538.50L125.80,541.40L122.90,538.50Z" fill="none" stroke="#f848d4" stroke-width="1.00"/>
<path d="M129.90,535.60L132.80,538.50L129.90,541.40L127.00,538.50Z" fill="none" stroke="#f848d4" stroke-width="1.00"/>
<path d="M122.30,549.30L125.20,552.20L122.30,555.10L119.40,552.20Z" fill="none" stroke="#f848d4" stroke-width="1.00"/>
<path d="M125.90,549.30L128.80,552.20L125.90,555.10L123.00,552.20Z" fill="none" stroke="#f848d4" stroke-width="1.00"/>
<path d="M129.50,549.30L132.40,552.20L129.50,555.10L126.60,552.20Z" fill="none" stroke="#f848d4" stroke-width="1.00"/>
<path d="M133.20,549.30L136.10,552.20L133.20,555.10L130.30,552.20Z" fill="none" stroke="#f848d4" stroke-width="1.00"/>
<line x1="119.30" y1="547.70" x2="136.20" y2="547.70" stroke="#000" stroke-width="1.90"/>
<line x1="151.00" y1="540.80" x2="151.00" y2="554.60" stroke="#f848d4" stroke-width="1.00"/>
<path d="M149.20,535.50L152.20,538.50L149.20,541.50L146.20,538.50Z" fill="#f848d4" stroke="#f848d4" stroke-width="0.50"/>
<path d="M152.80,535.50L155.80,538.50L152.80,541.50L149.80,538.50Z" fill="#f848d4" stroke="#f848d4" stroke-width="0.50"/>
<path d="M145.40,549.20L148.40,552.20L145.40,555.20L142.40,552.20Z" fill="#f848d4" stroke="#f848d4" stroke-width="0.50"/>
<path d="M148.20,549.20L151.20,552.20L148.20,555.20L145.20,552.20Z" fill="#f848d4" stroke="#f848d4" stroke-width="0.50"/>
<path d="M151.00,549.20L154.00,552.20L151.00,555.20L148.00,552.20Z" fill="#f848d4" stroke="#f848d4" stroke-width="0.50"/>
<path d="M153.80,549.20L156.80,552.20L153.80,555.20L150.80,552.20Z" fill="#f848d4" stroke="#f848d4" stroke-width="0.50"/>
<path d="M156.60,549.20L159.60,552.20L156.60,555.20L153.60,552.20Z" fill="#f848d4" stroke="#f848d4" stroke-width="0.50"/>
<line x1="142.40" y1="547.70" x2="159.50" y2="547.70" stroke="#000" stroke-width="1.90"/>
<path d="M168.50,549.70L170.80,554.10L166.20,554.10Z" fill="#000" stroke="#000" stroke-width="0.50" stroke-linejoin="miter"/>
<path d="M171.40,549.70L173.70,554.10L169.10,554.10Z" fill="#000" stroke="#000" stroke-width="0.50" stroke-linejoin="miter"/>
<path d="M174.30,549.70L176.60,554.10L172.00,554.10Z" fill="#000" stroke="#000" stroke-width="0.50" stroke-linejoin="miter"/>
<path d="M177.20,549.70L179.50,554.10L174.90,554.10Z" fill="#000" stroke="#000" stroke-width="0.50" stroke-linejoin="miter"/>
<path d="M180.00,549.70L182.30,554.10L177.70,554.10Z" fill="#000" stroke="#000" stroke-width="0.50" stroke-linejoin="miter"/>
<line x1="165.90" y1="552.70" x2="182.20" y2="552.70" stroke="#000" stroke-width="1.90"/>
<text font-size="11.20" textLength="90.00" lengthAdjust="spacingAndGlyphs" transform="translate(301.20,559.50) rotate(-90)">Relative infectivity</text>
<text font-size="11.20" textLength="125.70" lengthAdjust="spacingAndGlyphs" transform="translate(313.90,576.20) rotate(-90)">(normalized to mAb E60)</text>
<line x1="339.50" y1="469.40" x2="339.50" y2="561.80" stroke="#000" stroke-width="1.10"/>
<line x1="339.50" y1="469.90" x2="336.10" y2="469.90" stroke="#000" stroke-width="1.00"/>
<line x1="339.50" y1="491.08" x2="337.60" y2="491.08" stroke="#000" stroke-width="0.70"/>
<line x1="339.50" y1="485.74" x2="337.60" y2="485.74" stroke="#000" stroke-width="0.70"/>
<line x1="339.50" y1="481.96" x2="337.60" y2="481.96" stroke="#000" stroke-width="0.70"/>
<line x1="339.50" y1="479.02" x2="337.60" y2="479.02" stroke="#000" stroke-width="0.70"/>
<line x1="339.50" y1="476.62" x2="337.60" y2="476.62" stroke="#000" stroke-width="0.70"/>
<line x1="339.50" y1="474.59" x2="337.60" y2="474.59" stroke="#000" stroke-width="0.70"/>
<line x1="339.50" y1="472.84" x2="337.60" y2="472.84" stroke="#000" stroke-width="0.70"/>
<line x1="339.50" y1="471.29" x2="337.60" y2="471.29" stroke="#000" stroke-width="0.70"/>
<line x1="339.50" y1="500.20" x2="336.10" y2="500.20" stroke="#000" stroke-width="1.00"/>
<line x1="339.50" y1="521.45" x2="337.60" y2="521.45" stroke="#000" stroke-width="0.70"/>
<line x1="339.50" y1="516.10" x2="337.60" y2="516.10" stroke="#000" stroke-width="0.70"/>
<line x1="339.50" y1="512.30" x2="337.60" y2="512.30" stroke="#000" stroke-width="0.70"/>
<line x1="339.50" y1="509.35" x2="337.60" y2="509.35" stroke="#000" stroke-width="0.70"/>
<line x1="339.50" y1="506.94" x2="337.60" y2="506.94" stroke="#000" stroke-width="0.70"/>
<line x1="339.50" y1="504.91" x2="337.60" y2="504.91" stroke="#000" stroke-width="0.70"/>
<line x1="339.50" y1="503.15" x2="337.60" y2="503.15" stroke="#000" stroke-width="0.70"/>
<line x1="339.50" y1="501.59" x2="337.60" y2="501.59" stroke="#000" stroke-width="0.70"/>
<line x1="339.50" y1="530.60" x2="336.10" y2="530.60" stroke="#000" stroke-width="1.00"/>
<line x1="339.50" y1="552.06" x2="337.60" y2="552.06" stroke="#000" stroke-width="0.70"/>
<line x1="339.50" y1="546.65" x2="337.60" y2="546.65" stroke="#000" stroke-width="0.70"/>
<line x1="339.50" y1="542.82" x2="337.60" y2="542.82" stroke="#000" stroke-width="0.70"/>
<line x1="339.50" y1="539.84" x2="337.60" y2="539.84" stroke="#000" stroke-width="0.70"/>
<line x1="339.50" y1="537.41" x2="337.60" y2="537.41" stroke="#000" stroke-width="0.70"/>
<line x1="339.50" y1="535.36" x2="337.60" y2="535.36" stroke="#000" stroke-width="0.70"/>
<line x1="339.50" y1="533.58" x2="337.60" y2="533.58" stroke="#000" stroke-width="0.70"/>
<line x1="339.50" y1="532.00" x2="337.60" y2="532.00" stroke="#000" stroke-width="0.70"/>
<line x1="339.50" y1="561.30" x2="336.10" y2="561.30" stroke="#000" stroke-width="1.00"/>
<text x="320.10" y="473.60" font-size="9.80" textLength="11.20" lengthAdjust="spacingAndGlyphs">10</text>
<text x="332.00" y="470.30" font-size="6.00">3</text>
<text x="320.10" y="503.90" font-size="9.80" textLength="11.20" lengthAdjust="spacingAndGlyphs">10</text>
<text x="332.00" y="500.60" font-size="6.00">2</text>
<text x="320.10" y="534.30" font-size="9.80" textLength="11.20" lengthAdjust="spacingAndGlyphs">10</text>
<text x="332.00" y="531.00" font-size="6.00">1</text>
<text x="320.10" y="565.00" font-size="9.80" textLength="11.20" lengthAdjust="spacingAndGlyphs">10</text>
<text x="332.00" y="561.70" font-size="6.00">0</text>
<line x1="339.00" y1="561.30" x2="465.20" y2="561.30" stroke="#000" stroke-width="1.10"/>
<line x1="355.40" y1="561.30" x2="355.40" y2="565.20" stroke="#000" stroke-width="1.00"/>
<line x1="378.50" y1="561.30" x2="378.50" y2="565.20" stroke="#000" stroke-width="1.00"/>
<line x1="401.80" y1="561.30" x2="401.80" y2="565.20" stroke="#000" stroke-width="1.00"/>
<line x1="424.90" y1="561.30" x2="424.90" y2="565.20" stroke="#000" stroke-width="1.00"/>
<line x1="448.40" y1="561.30" x2="448.40" y2="565.20" stroke="#000" stroke-width="1.00"/>
<text x="350.30" y="466.40" font-size="12.90" textLength="63.30" lengthAdjust="spacingAndGlyphs">**p=0.0022</text>
<line x1="350.30" y1="472.00" x2="383.40" y2="472.00" stroke="#000" stroke-width="1.40"/>
<line x1="355.40" y1="482.50" x2="355.40" y2="496.00" stroke="#b0b0b0" stroke-width="1.00"/>
<line x1="352.40" y1="482.50" x2="358.40" y2="482.50" stroke="#b0b0b0" stroke-width="1.00"/>
<line x1="352.40" y1="496.00" x2="358.40" y2="496.00" stroke="#b0b0b0" stroke-width="1.00"/>
<circle cx="351.30" cy="482.20" r="2.70" fill="none" stroke="#2b2bff" stroke-width="1.30"/>
<circle cx="356.10" cy="481.60" r="2.70" fill="none" stroke="#2b2bff" stroke-width="1.30"/>
<circle cx="361.00" cy="482.20" r="2.70" fill="none" stroke="#2b2bff" stroke-width="1.30"/>
<circle cx="355.40" cy="491.80" r="2.70" fill="none" stroke="#2b2bff" stroke-width="1.30"/>
<circle cx="353.40" cy="497.90" r="2.70" fill="none" stroke="#2b2bff" stroke-width="1.30"/>
<circle cx="358.10" cy="497.90" r="2.70" fill="none" stroke="#2b2bff" stroke-width="1.30"/>
<line x1="347.30" y1="488.70" x2="364.00" y2="488.70" stroke="#000" stroke-width="1.90"/>
<line x1="378.50" y1="524.50" x2="378.50" y2="539.40" stroke="#f848d4" stroke-width="1.00"/>
<line x1="374.75" y1="524.50" x2="382.25" y2="524.50" stroke="#f848d4" stroke-width="1.00"/>
<line x1="374.75" y1="539.40" x2="382.25" y2="539.40" stroke="#f848d4" stroke-width="1.00"/>
<circle cx="376.90" cy="520.00" r="2.70" fill="none" stroke="#f848d4" stroke-width="1.10"/>
<circle cx="381.60" cy="522.40" r="2.70" fill="none" stroke="#f848d4" stroke-width="1.10"/>
<circle cx="373.80" cy="530.20" r="2.70" fill="none" stroke="#f848d4" stroke-width="1.10"/>
<circle cx="378.50" cy="531.00" r="2.70" fill="none" stroke="#f848d4" stroke-width="1.10"/>
<circle cx="383.40" cy="530.20" r="2.70" fill="none" stroke="#f848d4" stroke-width="1.10"/>
<circle cx="378.50" cy="536.70" r="2.70" fill="none" stroke="#f848d4" stroke-width="1.10"/>
<circle cx="378.50" cy="544.30" r="2.70" fill="none" stroke="#f848d4" stroke-width="1.10"/>
<line x1="370.20" y1="530.20" x2="387.10" y2="530.20" stroke="#000" stroke-width="1.90"/>
<line x1="402.00" y1="510.60" x2="402.00" y2="532.30" stroke="#b0b0b0" stroke-width="1.00"/>
<line x1="398.25" y1="510.60" x2="405.75" y2="510.60" stroke="#b0b0b0" stroke-width="1.00"/>
<line x1="398.25" y1="532.30" x2="405.75" y2="532.30" stroke="#b0b0b0" stroke-width="1.00"/>
<path d="M397.30,503.70L400.30,506.70L397.30,509.70L394.30,506.70Z" fill="none" stroke="#f848d4" stroke-width="1.10"/>
<path d="M402.00,507.60L405.00,510.60L402.00,513.60L399.00,510.60Z" fill="none" stroke="#f848d4" stroke-width="1.10"/>
<path d="M396.90,520.50L399.90,523.50L396.90,526.50L393.90,523.50Z" fill="none" stroke="#f848d4" stroke-width="1.10"/>
<path d="M406.90,522.50L409.90,525.50L406.90,528.50L403.90,525.50Z" fill="none" stroke="#f848d4" stroke-width="1.10"/>
<path d="M402.00,523.50L405.00,526.50L402.00,529.50L399.00,526.50Z" fill="none" stroke="#f848d4" stroke-width="1.10"/>
<path d="M402.00,531.70L405.00,534.70L402.00,537.70L399.00,534.70Z" fill="none" stroke="#f848d4" stroke-width="1.10"/>
<line x1="393.70" y1="521.40" x2="410.60" y2="521.40" stroke="#000" stroke-width="1.90"/>
<line x1="425.30" y1="502.40" x2="425.30" y2="533.70" stroke="#f848d4" stroke-width="1.00"/>
<line x1="420.90" y1="502.40" x2="429.70" y2="502.40" stroke="#f848d4" stroke-width="1.00"/>
<line x1="420.90" y1="533.70" x2="429.70" y2="533.70" stroke="#f848d4" stroke-width="1.00"/>
<path d="M425.30,488.40L428.30,491.40L425.30,494.40L422.30,491.40Z" fill="#f848d4" stroke="#f848d4" stroke-width="0.50"/>
<path d="M425.30,507.20L428.30,510.20L425.30,513.20L422.30,510.20Z" fill="#f848d4" stroke="#f848d4" stroke-width="0.50"/>
<path d="M420.40,521.10L423.40,524.10L420.40,527.10L417.40,524.10Z" fill="#f848d4" stroke="#f848d4" stroke-width="0.50"/>
<path d="M430.00,523.90L433.00,526.90L430.00,529.90L427.00,526.90Z" fill="#f848d4" stroke="#f848d4" stroke-width="0.50"/>
<path d="M425.30,533.30L428.30,536.30L425.30,539.30L422.30,536.30Z" fill="#f848d4" stroke="#f848d4" stroke-width="0.50"/>
<line x1="417.40" y1="518.00" x2="434.10" y2="518.00" stroke="#000" stroke-width="1.90"/>
<line x1="448.80" y1="518.80" x2="448.80" y2="528.00" stroke="#b0b0b0" stroke-width="1.00"/>
<line x1="445.30" y1="518.80" x2="452.30" y2="518.80" stroke="#b0b0b0" stroke-width="1.00"/>
<line x1="445.30" y1="528.00" x2="452.30" y2="528.00" stroke="#b0b0b0" stroke-width="1.00"/>
<path d="M453.90,514.00L456.40,518.60L451.40,518.60Z" fill="none" stroke="#000" stroke-width="1.10" stroke-linejoin="miter"/>
<path d="M445.00,519.70L447.50,524.30L442.50,524.30Z" fill="none" stroke="#000" stroke-width="1.10" stroke-linejoin="miter"/>
<path d="M449.00,522.20L451.50,526.80L446.50,526.80Z" fill="none" stroke="#000" stroke-width="1.10" stroke-linejoin="miter"/>
<path d="M453.90,523.20L456.40,527.80L451.40,527.80Z" fill="none" stroke="#000" stroke-width="1.10" stroke-linejoin="miter"/>
<path d="M443.90,525.70L446.40,530.30L441.40,530.30Z" fill="none" stroke="#000" stroke-width="1.10" stroke-linejoin="miter"/>
<line x1="440.30" y1="523.10" x2="457.20" y2="523.10" stroke="#000" stroke-width="1.90"/>
<text x="521.90" y="464.50" font-size="16.50" textLength="99.40" lengthAdjust="spacingAndGlyphs">Immune Sera</text>
<line x1="495.00" y1="471.40" x2="642.50" y2="471.40" stroke="#333" stroke-width="1.10"/>
<text x="512.30" y="489.40" font-size="12.80" textLength="20.10" lengthAdjust="spacingAndGlyphs">WT</text>
<text x="573.70" y="489.40" font-size="12.80" textLength="49.40" lengthAdjust="spacingAndGlyphs">Adjuplex</text>
<text x="512.00" y="505.00" font-size="12.80" textLength="48.80" lengthAdjust="spacingAndGlyphs">CC_FLE</text>
<text x="572.20" y="505.00" font-size="12.80" textLength="49.40" lengthAdjust="spacingAndGlyphs">Adjuplex</text>
<text x="512.00" y="520.80" font-size="12.80" textLength="48.80" lengthAdjust="spacingAndGlyphs">CC_FLE</text>
<text x="572.20" y="520.80" font-size="12.80" textLength="35.00" lengthAdjust="spacingAndGlyphs">PCEP</text>
<text x="512.00" y="535.80" font-size="12.80" textLength="48.80" lengthAdjust="spacingAndGlyphs">CC_FLE</text>
<text x="572.20" y="535.80" font-size="12.80" textLength="70.30" lengthAdjust="spacingAndGlyphs">PCEP-R848</text>
<text x="512.00" y="552.10" font-size="12.80" textLength="24.90" lengthAdjust="spacingAndGlyphs">PBS</text>
<circle cx="489.90" cy="495.40" r="2.70" fill="none" stroke="#2b2bff" stroke-width="1.20"/>
<circle cx="489.90" cy="507.90" r="2.70" fill="none" stroke="#f848d4" stroke-width="1.20"/>
<path d="M489.90,517.20L492.90,520.20L489.90,523.20L486.90,520.20Z" fill="none" stroke="#f848d4" stroke-width="1.10"/>
<path d="M489.90,529.80L492.90,532.80L489.90,535.80L486.90,532.80Z" fill="#f848d4" stroke="#f848d4" stroke-width="0.50"/>
<path d="M489.90,542.90L492.40,547.50L487.40,547.50Z" fill="none" stroke="#000" stroke-width="1.10" stroke-linejoin="miter"/>
<text font-size="18.3" font-weight="bold" x="-0.10" y="600.60">F</text>
<text x="223.90" y="596.90" font-size="14.60" textLength="88.50" lengthAdjust="spacingAndGlyphs">DENV-2 ADE</text>
<text x="70.40" y="617.90" font-size="14.60" textLength="158.60" lengthAdjust="spacingAndGlyphs">Peak enhancement titer</text>
<text x="292.50" y="616.90" font-size="14.60" textLength="181.60" lengthAdjust="spacingAndGlyphs">Magnitude of enhancement</text>
<text font-size="10.7" transform="translate(25.6,748.4) rotate(-90)">1/Log<tspan font-size="8" dy="2.4">10</tspan><tspan dy="-2.4"> EC</tspan><tspan font-size="8" dy="2.4">50</tspan><tspan dy="-2.4"> PET</tspan></text>
<text font-size="10.80" textLength="81.00" lengthAdjust="spacingAndGlyphs" transform="translate(39.70,748.00) rotate(-90)">(1/serum dilution)</text>
<line x1="63.60" y1="665.70" x2="63.60" y2="752.00" stroke="#000" stroke-width="1.10"/>
<line x1="63.60" y1="666.20" x2="60.20" y2="666.20" stroke="#000" stroke-width="1.00"/>
<line x1="63.60" y1="696.05" x2="61.70" y2="696.05" stroke="#000" stroke-width="0.70"/>
<line x1="63.60" y1="688.53" x2="61.70" y2="688.53" stroke="#000" stroke-width="0.70"/>
<line x1="63.60" y1="683.19" x2="61.70" y2="683.19" stroke="#000" stroke-width="0.70"/>
<line x1="63.60" y1="679.05" x2="61.70" y2="679.05" stroke="#000" stroke-width="0.70"/>
<line x1="63.60" y1="675.67" x2="61.70" y2="675.67" stroke="#000" stroke-width="0.70"/>
<line x1="63.60" y1="672.81" x2="61.70" y2="672.81" stroke="#000" stroke-width="0.70"/>
<line x1="63.60" y1="670.34" x2="61.70" y2="670.34" stroke="#000" stroke-width="0.70"/>
<line x1="63.60" y1="668.15" x2="61.70" y2="668.15" stroke="#000" stroke-width="0.70"/>
<line x1="63.60" y1="708.90" x2="60.20" y2="708.90" stroke="#000" stroke-width="1.00"/>
<line x1="63.60" y1="738.68" x2="61.70" y2="738.68" stroke="#000" stroke-width="0.70"/>
<line x1="63.60" y1="731.17" x2="61.70" y2="731.17" stroke="#000" stroke-width="0.70"/>
<line x1="63.60" y1="725.85" x2="61.70" y2="725.85" stroke="#000" stroke-width="0.70"/>
<line x1="63.60" y1="721.72" x2="61.70" y2="721.72" stroke="#000" stroke-width="0.70"/>
<line x1="63.60" y1="718.35" x2="61.70" y2="718.35" stroke="#000" stroke-width="0.70"/>
<line x1="63.60" y1="715.50" x2="61.70" y2="715.50" stroke="#000" stroke-width="0.70"/>
<line x1="63.60" y1="713.03" x2="61.70" y2="713.03" stroke="#000" stroke-width="0.70"/>
<line x1="63.60" y1="710.85" x2="61.70" y2="710.85" stroke="#000" stroke-width="0.70"/>
<line x1="63.60" y1="751.50" x2="60.20" y2="751.50" stroke="#000" stroke-width="1.00"/>
<text x="43.40" y="669.90" font-size="9.80" textLength="12.30" lengthAdjust="spacingAndGlyphs">10</text>
<text x="56.10" y="666.60" font-size="6.00">3</text>
<text x="43.40" y="712.60" font-size="9.80" textLength="12.30" lengthAdjust="spacingAndGlyphs">10</text>
<text x="56.10" y="709.30" font-size="6.00">2</text>
<text x="43.40" y="755.20" font-size="9.80" textLength="12.30" lengthAdjust="spacingAndGlyphs">10</text>
<text x="56.10" y="751.90" font-size="6.00">1</text>
<line x1="63.10" y1="751.50" x2="181.10" y2="751.50" stroke="#000" stroke-width="1.10"/>
<line x1="77.90" y1="751.50" x2="77.90" y2="755.40" stroke="#000" stroke-width="1.00"/>
<line x1="99.80" y1="751.50" x2="99.80" y2="755.40" stroke="#000" stroke-width="1.00"/>
<line x1="121.60" y1="751.50" x2="121.60" y2="755.40" stroke="#000" stroke-width="1.00"/>
<line x1="143.40" y1="751.50" x2="143.40" y2="755.40" stroke="#000" stroke-width="1.00"/>
<line x1="165.30" y1="751.50" x2="165.30" y2="755.40" stroke="#000" stroke-width="1.00"/>
<line x1="73.20" y1="648.00" x2="171.10" y2="648.00" stroke="#000" stroke-width="1.30"/>
<text x="93.50" y="643.40" font-size="12.90" textLength="63.60" lengthAdjust="spacingAndGlyphs">**p=0.0022</text>
<line x1="73.20" y1="663.90" x2="143.80" y2="663.90" stroke="#000" stroke-width="1.30"/>
<text x="151.20" y="669.70" font-size="12.90" textLength="63.60" lengthAdjust="spacingAndGlyphs">**p=0.0022</text>
<line x1="73.20" y1="678.40" x2="126.70" y2="678.40" stroke="#000" stroke-width="1.30"/>
<text x="135.10" y="686.60" font-size="12.90" textLength="63.10" lengthAdjust="spacingAndGlyphs">**p=0.0065</text>
<line x1="77.90" y1="683.70" x2="77.90" y2="714.10" stroke="#b0b0b0" stroke-width="1.00"/>
<line x1="74.05" y1="683.70" x2="81.75" y2="683.70" stroke="#b0b0b0" stroke-width="1.00"/>
<line x1="74.05" y1="714.10" x2="81.75" y2="714.10" stroke="#b0b0b0" stroke-width="1.00"/>
<circle cx="73.00" cy="688.90" r="2.40" fill="none" stroke="#2b2bff" stroke-width="1.20"/>
<circle cx="76.50" cy="688.90" r="2.40" fill="none" stroke="#2b2bff" stroke-width="1.20"/>
<circle cx="80.00" cy="688.90" r="2.40" fill="none" stroke="#2b2bff" stroke-width="1.20"/>
<circle cx="83.50" cy="688.90" r="2.40" fill="none" stroke="#2b2bff" stroke-width="1.20"/>
<circle cx="76.50" cy="718.80" r="2.40" fill="none" stroke="#2b2bff" stroke-width="1.20"/>
<circle cx="80.00" cy="718.80" r="2.40" fill="none" stroke="#2b2bff" stroke-width="1.20"/>
<line x1="70.20" y1="698.90" x2="86.10" y2="698.90" stroke="#000" stroke-width="1.90"/>
<line x1="99.80" y1="719.00" x2="99.80" y2="732.00" stroke="#f848d4" stroke-width="1.00"/>
<circle cx="97.60" cy="718.80" r="2.70" fill="none" stroke="#f848d4" stroke-width="1.10"/>
<circle cx="102.30" cy="718.80" r="2.70" fill="none" stroke="#f848d4" stroke-width="1.10"/>
<circle cx="95.40" cy="731.60" r="2.70" fill="none" stroke="#f848d4" stroke-width="1.10"/>
<circle cx="99.80" cy="731.60" r="2.70" fill="none" stroke="#f848d4" stroke-width="1.10"/>
<circle cx="104.30" cy="731.60" r="2.70" fill="none" stroke="#f848d4" stroke-width="1.10"/>
<line x1="91.70" y1="726.20" x2="108.00" y2="726.20" stroke="#000" stroke-width="1.90"/>
<line x1="121.60" y1="724.10" x2="121.60" y2="733.90" stroke="#b0b0b0" stroke-width="1.00"/>
<line x1="118.60" y1="724.10" x2="124.60" y2="724.10" stroke="#b0b0b0" stroke-width="1.00"/>
<line x1="118.60" y1="733.90" x2="124.60" y2="733.90" stroke="#b0b0b0" stroke-width="1.00"/>
<path d="M121.60,716.00L124.40,718.80L121.60,721.60L118.80,718.80Z" fill="none" stroke="#f848d4" stroke-width="1.00"/>
<path d="M116.50,728.80L119.30,731.60L116.50,734.40L113.70,731.60Z" fill="none" stroke="#f848d4" stroke-width="1.00"/>
<path d="M119.10,728.80L121.90,731.60L119.10,734.40L116.30,731.60Z" fill="none" stroke="#f848d4" stroke-width="1.00"/>
<path d="M121.70,728.80L124.50,731.60L121.70,734.40L118.90,731.60Z" fill="none" stroke="#f848d4" stroke-width="1.00"/>
<path d="M124.30,728.80L127.10,731.60L124.30,734.40L121.50,731.60Z" fill="none" stroke="#f848d4" stroke-width="1.00"/>
<path d="M126.80,728.80L129.60,731.60L126.80,734.40L124.00,731.60Z" fill="none" stroke="#f848d4" stroke-width="1.00"/>
<line x1="113.40" y1="729.30" x2="129.70" y2="729.30" stroke="#000" stroke-width="1.90"/>
<path d="M138.20,728.90L140.90,731.60L138.20,734.30L135.50,731.60Z" fill="#f848d4" stroke="#f848d4" stroke-width="0.50"/>
<path d="M140.90,728.90L143.60,731.60L140.90,734.30L138.20,731.60Z" fill="#f848d4" stroke="#f848d4" stroke-width="0.50"/>
<path d="M143.50,728.90L146.20,731.60L143.50,734.30L140.80,731.60Z" fill="#f848d4" stroke="#f848d4" stroke-width="0.50"/>
<path d="M146.10,728.90L148.80,731.60L146.10,734.30L143.40,731.60Z" fill="#f848d4" stroke="#f848d4" stroke-width="0.50"/>
<path d="M148.70,728.90L151.40,731.60L148.70,734.30L146.00,731.60Z" fill="#f848d4" stroke="#f848d4" stroke-width="0.50"/>
<line x1="135.60" y1="731.60" x2="151.20" y2="731.60" stroke="#000" stroke-width="1.90"/>
<path d="M159.50,729.30L161.80,733.70L157.20,733.70Z" fill="#000" stroke="#000" stroke-width="0.50" stroke-linejoin="miter"/>
<path d="M162.40,729.30L164.70,733.70L160.10,733.70Z" fill="#000" stroke="#000" stroke-width="0.50" stroke-linejoin="miter"/>
<path d="M165.30,729.30L167.60,733.70L163.00,733.70Z" fill="#000" stroke="#000" stroke-width="0.50" stroke-linejoin="miter"/>
<path d="M168.20,729.30L170.50,733.70L165.90,733.70Z" fill="#000" stroke="#000" stroke-width="0.50" stroke-linejoin="miter"/>
<path d="M170.90,729.30L173.20,733.70L168.60,733.70Z" fill="#000" stroke="#000" stroke-width="0.50" stroke-linejoin="miter"/>
<line x1="157.10" y1="732.20" x2="173.00" y2="732.20" stroke="#000" stroke-width="1.90"/>
<text x="184.50" y="767.50" font-size="14.60" textLength="135.20" lengthAdjust="spacingAndGlyphs">Immune Sera Group</text>
<text font-size="11.20" textLength="90.00" lengthAdjust="spacingAndGlyphs" transform="translate(301.20,736.50) rotate(-90)">Relative infectivity</text>
<text font-size="11.20" textLength="125.70" lengthAdjust="spacingAndGlyphs" transform="translate(313.90,753.00) rotate(-90)">(normalized to mAb E60)</text>
<line x1="340.10" y1="645.20" x2="340.10" y2="738.20" stroke="#000" stroke-width="1.10"/>
<line x1="340.10" y1="645.70" x2="336.70" y2="645.70" stroke="#000" stroke-width="1.00"/>
<line x1="340.10" y1="677.64" x2="338.20" y2="677.64" stroke="#000" stroke-width="0.70"/>
<line x1="340.10" y1="669.60" x2="338.20" y2="669.60" stroke="#000" stroke-width="0.70"/>
<line x1="340.10" y1="663.89" x2="338.20" y2="663.89" stroke="#000" stroke-width="0.70"/>
<line x1="340.10" y1="659.46" x2="338.20" y2="659.46" stroke="#000" stroke-width="0.70"/>
<line x1="340.10" y1="655.84" x2="338.20" y2="655.84" stroke="#000" stroke-width="0.70"/>
<line x1="340.10" y1="652.78" x2="338.20" y2="652.78" stroke="#000" stroke-width="0.70"/>
<line x1="340.10" y1="650.13" x2="338.20" y2="650.13" stroke="#000" stroke-width="0.70"/>
<line x1="340.10" y1="647.79" x2="338.20" y2="647.79" stroke="#000" stroke-width="0.70"/>
<line x1="340.10" y1="691.40" x2="336.70" y2="691.40" stroke="#000" stroke-width="1.00"/>
<line x1="340.10" y1="723.76" x2="338.20" y2="723.76" stroke="#000" stroke-width="0.70"/>
<line x1="340.10" y1="715.61" x2="338.20" y2="715.61" stroke="#000" stroke-width="0.70"/>
<line x1="340.10" y1="709.82" x2="338.20" y2="709.82" stroke="#000" stroke-width="0.70"/>
<line x1="340.10" y1="705.34" x2="338.20" y2="705.34" stroke="#000" stroke-width="0.70"/>
<line x1="340.10" y1="701.67" x2="338.20" y2="701.67" stroke="#000" stroke-width="0.70"/>
<line x1="340.10" y1="698.57" x2="338.20" y2="698.57" stroke="#000" stroke-width="0.70"/>
<line x1="340.10" y1="695.89" x2="338.20" y2="695.89" stroke="#000" stroke-width="0.70"/>
<line x1="340.10" y1="693.52" x2="338.20" y2="693.52" stroke="#000" stroke-width="0.70"/>
<line x1="340.10" y1="737.70" x2="336.70" y2="737.70" stroke="#000" stroke-width="1.00"/>
<text x="320.70" y="649.40" font-size="9.80" textLength="11.20" lengthAdjust="spacingAndGlyphs">10</text>
<text x="332.60" y="646.10" font-size="6.00">3</text>
<text x="320.70" y="695.10" font-size="9.80" textLength="11.20" lengthAdjust="spacingAndGlyphs">10</text>
<text x="332.60" y="691.80" font-size="6.00">2</text>
<text x="320.70" y="741.40" font-size="9.80" textLength="11.20" lengthAdjust="spacingAndGlyphs">10</text>
<text x="332.60" y="738.10" font-size="6.00">1</text>
<line x1="339.60" y1="737.70" x2="465.20" y2="737.70" stroke="#000" stroke-width="1.10"/>
<line x1="355.40" y1="737.70" x2="355.40" y2="741.60" stroke="#000" stroke-width="1.00"/>
<line x1="378.50" y1="737.70" x2="378.50" y2="741.60" stroke="#000" stroke-width="1.00"/>
<line x1="401.80" y1="737.70" x2="401.80" y2="741.60" stroke="#000" stroke-width="1.00"/>
<line x1="424.90" y1="737.70" x2="424.90" y2="741.60" stroke="#000" stroke-width="1.00"/>
<line x1="448.40" y1="737.70" x2="448.40" y2="741.60" stroke="#000" stroke-width="1.00"/>
<line x1="350.30" y1="648.60" x2="455.20" y2="648.60" stroke="#000" stroke-width="1.30"/>
<text x="371.10" y="642.70" font-size="12.90" textLength="63.20" lengthAdjust="spacingAndGlyphs">**p=0.0043</text>
<line x1="350.30" y1="665.10" x2="431.50" y2="665.10" stroke="#000" stroke-width="1.30"/>
<text x="435.30" y="671.30" font-size="12.90" textLength="63.60" lengthAdjust="spacingAndGlyphs">**p=0.0043</text>
<line x1="355.60" y1="678.20" x2="355.60" y2="698.90" stroke="#b0b0b0" stroke-width="1.00"/>
<line x1="351.75" y1="678.20" x2="359.45" y2="678.20" stroke="#b0b0b0" stroke-width="1.00"/>
<line x1="351.75" y1="698.90" x2="359.45" y2="698.90" stroke="#b0b0b0" stroke-width="1.00"/>
<circle cx="355.80" cy="673.70" r="2.70" fill="none" stroke="#2b2bff" stroke-width="1.30"/>
<circle cx="354.80" cy="681.90" r="2.70" fill="none" stroke="#2b2bff" stroke-width="1.30"/>
<circle cx="360.50" cy="688.00" r="2.70" fill="none" stroke="#2b2bff" stroke-width="1.30"/>
<circle cx="350.70" cy="692.10" r="2.70" fill="none" stroke="#2b2bff" stroke-width="1.30"/>
<circle cx="360.50" cy="694.80" r="2.70" fill="none" stroke="#2b2bff" stroke-width="1.30"/>
<circle cx="355.80" cy="702.90" r="2.70" fill="none" stroke="#2b2bff" stroke-width="1.30"/>
<line x1="347.30" y1="688.60" x2="364.00" y2="688.60" stroke="#000" stroke-width="1.90"/>
<line x1="378.90" y1="701.30" x2="378.90" y2="725.80" stroke="#f848d4" stroke-width="1.00"/>
<line x1="374.90" y1="701.30" x2="382.90" y2="701.30" stroke="#f848d4" stroke-width="1.00"/>
<line x1="374.90" y1="725.80" x2="382.90" y2="725.80" stroke="#f848d4" stroke-width="1.00"/>
<circle cx="378.90" cy="697.20" r="2.80" fill="none" stroke="#f848d4" stroke-width="1.10"/>
<circle cx="373.80" cy="705.00" r="2.80" fill="none" stroke="#f848d4" stroke-width="1.10"/>
<circle cx="384.00" cy="705.80" r="2.80" fill="none" stroke="#f848d4" stroke-width="1.10"/>
<circle cx="378.90" cy="715.60" r="2.80" fill="none" stroke="#f848d4" stroke-width="1.10"/>
<circle cx="378.90" cy="722.80" r="2.80" fill="none" stroke="#f848d4" stroke-width="1.10"/>
<circle cx="378.90" cy="733.40" r="2.80" fill="none" stroke="#f848d4" stroke-width="1.10"/>
<line x1="370.20" y1="713.00" x2="387.50" y2="713.00" stroke="#000" stroke-width="1.90"/>
<line x1="402.00" y1="704.00" x2="402.00" y2="718.70" stroke="#b0b0b0" stroke-width="1.00"/>
<line x1="398.50" y1="704.00" x2="405.50" y2="704.00" stroke="#b0b0b0" stroke-width="1.00"/>
<line x1="398.50" y1="718.70" x2="405.50" y2="718.70" stroke="#b0b0b0" stroke-width="1.00"/>
<path d="M402.10,697.60L405.10,700.60L402.10,703.60L399.10,700.60Z" fill="none" stroke="#f848d4" stroke-width="1.10"/>
<path d="M404.40,704.40L407.40,707.40L404.40,710.40L401.40,707.40Z" fill="none" stroke="#f848d4" stroke-width="1.10"/>
<path d="M399.10,706.50L402.10,709.50L399.10,712.50L396.10,709.50Z" fill="none" stroke="#f848d4" stroke-width="1.10"/>
<path d="M407.50,707.40L410.50,710.40L407.50,713.40L404.50,710.40Z" fill="none" stroke="#f848d4" stroke-width="1.10"/>
<path d="M404.40,713.60L407.40,716.60L404.40,719.60L401.40,716.60Z" fill="none" stroke="#f848d4" stroke-width="1.10"/>
<path d="M399.60,717.60L402.60,720.60L399.60,723.60L396.60,720.60Z" fill="none" stroke="#f848d4" stroke-width="1.10"/>
<line x1="393.90" y1="710.90" x2="411.00" y2="710.90" stroke="#000" stroke-width="1.90"/>
<line x1="425.30" y1="708.50" x2="425.30" y2="726.00" stroke="#f848d4" stroke-width="1.00"/>
<line x1="421.80" y1="708.50" x2="428.80" y2="708.50" stroke="#f848d4" stroke-width="1.00"/>
<line x1="421.80" y1="726.00" x2="428.80" y2="726.00" stroke="#f848d4" stroke-width="1.00"/>
<path d="M425.30,697.70L428.30,700.70L425.30,703.70L422.30,700.70Z" fill="#f848d4" stroke="#f848d4" stroke-width="0.50"/>
<path d="M420.80,715.70L423.80,718.70L420.80,721.70L417.80,718.70Z" fill="#f848d4" stroke="#f848d4" stroke-width="0.50"/>
<path d="M425.30,716.70L428.30,719.70L425.30,722.70L422.30,719.70Z" fill="#f848d4" stroke="#f848d4" stroke-width="0.50"/>
<path d="M430.40,716.30L433.40,719.30L430.40,722.30L427.40,719.30Z" fill="#f848d4" stroke="#f848d4" stroke-width="0.50"/>
<path d="M425.30,723.90L428.30,726.90L425.30,729.90L422.30,726.90Z" fill="#f848d4" stroke="#f848d4" stroke-width="0.50"/>
<line x1="417.20" y1="717.30" x2="434.10" y2="717.30" stroke="#000" stroke-width="1.90"/>
<line x1="449.00" y1="709.50" x2="449.00" y2="722.80" stroke="#b0b0b0" stroke-width="1.00"/>
<line x1="445.50" y1="709.50" x2="452.50" y2="709.50" stroke="#b0b0b0" stroke-width="1.00"/>
<line x1="445.50" y1="722.80" x2="452.50" y2="722.80" stroke="#b0b0b0" stroke-width="1.00"/>
<path d="M449.00,703.50L451.50,708.10L446.50,708.10Z" fill="none" stroke="#000" stroke-width="1.10" stroke-linejoin="miter"/>
<path d="M444.30,710.30L446.80,714.90L441.80,714.90Z" fill="none" stroke="#000" stroke-width="1.10" stroke-linejoin="miter"/>
<path d="M449.00,711.30L451.50,715.90L446.50,715.90Z" fill="none" stroke="#000" stroke-width="1.10" stroke-linejoin="miter"/>
<path d="M453.90,710.70L456.40,715.30L451.40,715.30Z" fill="none" stroke="#000" stroke-width="1.10" stroke-linejoin="miter"/>
<path d="M449.00,726.00L451.50,730.60L446.50,730.60Z" fill="none" stroke="#000" stroke-width="1.10" stroke-linejoin="miter"/>
<line x1="440.30" y1="715.00" x2="457.20" y2="715.00" stroke="#000" stroke-width="1.90"/>
<text font-size="18.3" font-weight="bold" x="0.00" y="799.50">G</text>
<text x="71.00" y="797.10" font-size="14.70" textLength="193.20" lengthAdjust="spacingAndGlyphs">Recipient mice survival curve</text>
<text x="71.00" y="814.70" font-size="14.70" textLength="160.00" lengthAdjust="spacingAndGlyphs">upon DENV-2 challenge</text>
<text font-size="13.40" textLength="75.20" lengthAdjust="spacingAndGlyphs" transform="translate(29.40,965.30) rotate(-90)">Survival&#160;&#160;(%)</text>
<line x1="70.10" y1="867.90" x2="70.10" y2="994.20" stroke="#000" stroke-width="1.40"/>
<line x1="69.40" y1="993.50" x2="154.50" y2="993.50" stroke="#000" stroke-width="1.40"/>
<line x1="64.60" y1="993.50" x2="70.10" y2="993.50" stroke="#000" stroke-width="1.30"/>
<text x="64.20" y="998.20" font-size="15.00" text-anchor="end">0</text>
<line x1="64.60" y1="969.66" x2="70.10" y2="969.66" stroke="#000" stroke-width="1.30"/>
<text x="64.20" y="974.36" font-size="15.00" text-anchor="end">20</text>
<line x1="64.60" y1="945.82" x2="70.10" y2="945.82" stroke="#000" stroke-width="1.30"/>
<text x="64.20" y="950.52" font-size="15.00" text-anchor="end">40</text>
<line x1="64.60" y1="921.98" x2="70.10" y2="921.98" stroke="#000" stroke-width="1.30"/>
<text x="64.20" y="926.68" font-size="15.00" text-anchor="end">60</text>
<line x1="64.60" y1="898.14" x2="70.10" y2="898.14" stroke="#000" stroke-width="1.30"/>
<text x="64.20" y="902.84" font-size="15.00" text-anchor="end">80</text>
<line x1="64.60" y1="874.30" x2="70.10" y2="874.30" stroke="#000" stroke-width="1.30"/>
<text x="64.20" y="879.00" font-size="15.00" text-anchor="end">100</text>
<line x1="70.10" y1="993.50" x2="70.10" y2="999.00" stroke="#000" stroke-width="1.30"/>
<line x1="80.53" y1="993.50" x2="80.53" y2="996.50" stroke="#000" stroke-width="1.30"/>
<line x1="90.95" y1="993.50" x2="90.95" y2="999.00" stroke="#000" stroke-width="1.30"/>
<line x1="101.38" y1="993.50" x2="101.38" y2="996.50" stroke="#000" stroke-width="1.30"/>
<line x1="111.80" y1="993.50" x2="111.80" y2="999.00" stroke="#000" stroke-width="1.30"/>
<line x1="122.23" y1="993.50" x2="122.23" y2="996.50" stroke="#000" stroke-width="1.30"/>
<line x1="132.66" y1="993.50" x2="132.66" y2="999.00" stroke="#000" stroke-width="1.30"/>
<line x1="143.08" y1="993.50" x2="143.08" y2="996.50" stroke="#000" stroke-width="1.30"/>
<line x1="153.51" y1="993.50" x2="153.51" y2="999.00" stroke="#000" stroke-width="1.30"/>
<text x="70.10" y="1014.40" font-size="14.80" text-anchor="middle">0</text>
<text x="90.90" y="1014.40" font-size="14.80" text-anchor="middle">4</text>
<text x="111.80" y="1014.40" font-size="14.80" text-anchor="middle">8</text>
<text x="133.20" y="1014.40" font-size="14.80" text-anchor="middle">12</text>
<text x="153.80" y="1014.40" font-size="14.80" text-anchor="middle">16</text>
<text x="70.30" y="1034.90" font-size="12.60" textLength="46.40" lengthAdjust="spacingAndGlyphs">DENV-2</text>
<text x="121.70" y="1034.90" font-size="14.30" textLength="23.60" lengthAdjust="spacingAndGlyphs">DPI</text>
<path d="M70.10,874.30L127.44,874.30L127.44,894.21L132.66,894.21L132.66,933.90L143.08,933.90" fill="none" stroke="#888" stroke-width="1.40" stroke-linejoin="miter"/>
<path d="M70.10,874.30L101.38,874.30L101.38,913.99L111.80,913.99L111.80,933.90L122.23,933.90L122.23,953.81L127.44,953.81L127.44,993.50" fill="none" stroke="#2b2bff" stroke-width="1.50" stroke-dasharray="3.4,2.6" stroke-linejoin="miter"/>
<path d="M70.10,874.30L137.87,874.30L137.87,913.99L143.08,913.99L143.08,933.90" fill="none" stroke="#ff22ee" stroke-width="1.30" stroke-dasharray="3.4,2.6" stroke-linejoin="miter"/>
<path d="M127.44,890.41L131.14,897.21L123.74,897.21Z" fill="none" stroke="#858585" stroke-width="1.50" stroke-linejoin="miter"/>
<path d="M132.66,930.10L136.36,936.90L128.96,936.90Z" fill="none" stroke="#858585" stroke-width="1.50" stroke-linejoin="miter"/>
<path d="M143.08,930.10L146.78,936.90L139.38,936.90Z" fill="none" stroke="#858585" stroke-width="1.50" stroke-linejoin="miter"/>
<clipPath id="gclip"><rect x="60" y="860" width="120" height="133.5"/></clipPath><g clip-path="url(#gclip)">
<circle cx="101.38" cy="913.99" r="3.60" fill="none" stroke="#2b2bff" stroke-width="1.50"/>
<circle cx="111.80" cy="933.90" r="3.60" fill="none" stroke="#2b2bff" stroke-width="1.50"/>
<circle cx="122.23" cy="953.81" r="3.60" fill="none" stroke="#2b2bff" stroke-width="1.50"/>
<circle cx="127.44" cy="993.50" r="3.60" fill="none" stroke="#2b2bff" stroke-width="1.50"/>
</g>
<circle cx="137.87" cy="913.99" r="3.60" fill="none" stroke="#ff22ee" stroke-width="1.30"/>
<circle cx="143.08" cy="933.90" r="3.60" fill="none" stroke="#ff22ee" stroke-width="1.30"/>
<text x="171.70" y="867.00" font-size="12.70" textLength="65.10" lengthAdjust="spacingAndGlyphs">Donor Sera</text>
<circle cx="161.50" cy="887.60" r="3.60" fill="none" stroke="#ff22ee" stroke-width="1.30"/>
<text x="172.50" y="892.90" font-size="12.70" textLength="48.50" lengthAdjust="spacingAndGlyphs">CC_FLE</text>
<circle cx="161.50" cy="917.30" r="3.60" fill="none" stroke="#2b2bff" stroke-width="1.40"/>
<text x="183.80" y="922.50" font-size="12.70" textLength="19.20" lengthAdjust="spacingAndGlyphs">WT</text>
<path d="M161.50,938.40L165.20,945.20L157.80,945.20Z" fill="none" stroke="#858585" stroke-width="1.50" stroke-linejoin="miter"/>
<text x="183.20" y="945.00" font-size="12.70" textLength="25.10" lengthAdjust="spacingAndGlyphs">PBS</text>
<path d="M224.00,886.70L228.00,886.70L228.00,912.60L224.00,912.60" fill="none" stroke="#222" stroke-width="1.20" stroke-linejoin="miter"/>
<path d="M224.00,916.30L228.00,916.30L228.00,942.20L224.00,942.20" fill="none" stroke="#222" stroke-width="1.20" stroke-linejoin="miter"/>
<path d="M307.20,885.90L311.20,885.90L311.20,944.50L307.20,944.50" fill="none" stroke="#222" stroke-width="1.20" stroke-linejoin="miter"/>
<text x="233.10" y="904.20" font-size="12.90" textLength="69.00" lengthAdjust="spacingAndGlyphs">***p=0.0007</text>
<text x="233.10" y="938.00" font-size="12.90" textLength="64.00" lengthAdjust="spacingAndGlyphs">**p=0.0022</text>
<text x="318.50" y="918.30" font-size="12.00">ns</text>
<text x="385.80" y="797.30" font-size="14.70" textLength="136.50" lengthAdjust="spacingAndGlyphs">DENV-2&#160;&#160;tissue virus</text>
<text x="385.80" y="814.50" font-size="14.70" textLength="140.30" lengthAdjust="spacingAndGlyphs">load in recipient mice</text>
<text font-size="12.80" textLength="134.70" lengthAdjust="spacingAndGlyphs" transform="translate(364.60,978.50) rotate(-90)">Lymph Node VL (DENV</text>
<text font-size="12.90" textLength="147.70" lengthAdjust="spacingAndGlyphs" transform="translate(379.10,984.70) rotate(-90)">RNA copies/ gram tissue)</text>
<line x1="418.50" y1="867.40" x2="418.50" y2="994.30" stroke="#000" stroke-width="1.70"/>
<line x1="417.70" y1="993.50" x2="544.00" y2="993.50" stroke="#000" stroke-width="1.50"/>
<line x1="418.50" y1="868.20" x2="412.60" y2="868.20" stroke="#000" stroke-width="1.90"/>
<line x1="418.50" y1="890.15" x2="414.90" y2="890.15" stroke="#000" stroke-width="1.10"/>
<line x1="418.50" y1="884.62" x2="414.90" y2="884.62" stroke="#000" stroke-width="1.10"/>
<line x1="418.50" y1="880.70" x2="414.90" y2="880.70" stroke="#000" stroke-width="1.10"/>
<line x1="418.50" y1="877.65" x2="414.90" y2="877.65" stroke="#000" stroke-width="1.10"/>
<line x1="418.50" y1="875.17" x2="414.90" y2="875.17" stroke="#000" stroke-width="1.10"/>
<line x1="418.50" y1="873.06" x2="414.90" y2="873.06" stroke="#000" stroke-width="1.10"/>
<line x1="418.50" y1="871.24" x2="414.90" y2="871.24" stroke="#000" stroke-width="1.10"/>
<line x1="418.50" y1="869.64" x2="414.90" y2="869.64" stroke="#000" stroke-width="1.10"/>
<line x1="418.50" y1="899.60" x2="412.60" y2="899.60" stroke="#000" stroke-width="1.90"/>
<line x1="418.50" y1="921.48" x2="414.90" y2="921.48" stroke="#000" stroke-width="1.10"/>
<line x1="418.50" y1="915.97" x2="414.90" y2="915.97" stroke="#000" stroke-width="1.10"/>
<line x1="418.50" y1="912.06" x2="414.90" y2="912.06" stroke="#000" stroke-width="1.10"/>
<line x1="418.50" y1="909.02" x2="414.90" y2="909.02" stroke="#000" stroke-width="1.10"/>
<line x1="418.50" y1="906.54" x2="414.90" y2="906.54" stroke="#000" stroke-width="1.10"/>
<line x1="418.50" y1="904.45" x2="414.90" y2="904.45" stroke="#000" stroke-width="1.10"/>
<line x1="418.50" y1="902.63" x2="414.90" y2="902.63" stroke="#000" stroke-width="1.10"/>
<line x1="418.50" y1="901.03" x2="414.90" y2="901.03" stroke="#000" stroke-width="1.10"/>
<line x1="418.50" y1="930.90" x2="412.60" y2="930.90" stroke="#000" stroke-width="1.90"/>
<line x1="418.50" y1="952.78" x2="414.90" y2="952.78" stroke="#000" stroke-width="1.10"/>
<line x1="418.50" y1="947.27" x2="414.90" y2="947.27" stroke="#000" stroke-width="1.10"/>
<line x1="418.50" y1="943.36" x2="414.90" y2="943.36" stroke="#000" stroke-width="1.10"/>
<line x1="418.50" y1="940.32" x2="414.90" y2="940.32" stroke="#000" stroke-width="1.10"/>
<line x1="418.50" y1="937.84" x2="414.90" y2="937.84" stroke="#000" stroke-width="1.10"/>
<line x1="418.50" y1="935.75" x2="414.90" y2="935.75" stroke="#000" stroke-width="1.10"/>
<line x1="418.50" y1="933.93" x2="414.90" y2="933.93" stroke="#000" stroke-width="1.10"/>
<line x1="418.50" y1="932.33" x2="414.90" y2="932.33" stroke="#000" stroke-width="1.10"/>
<line x1="418.50" y1="962.20" x2="412.60" y2="962.20" stroke="#000" stroke-width="1.90"/>
<line x1="418.50" y1="984.08" x2="414.90" y2="984.08" stroke="#000" stroke-width="1.10"/>
<line x1="418.50" y1="978.57" x2="414.90" y2="978.57" stroke="#000" stroke-width="1.10"/>
<line x1="418.50" y1="974.66" x2="414.90" y2="974.66" stroke="#000" stroke-width="1.10"/>
<line x1="418.50" y1="971.62" x2="414.90" y2="971.62" stroke="#000" stroke-width="1.10"/>
<line x1="418.50" y1="969.14" x2="414.90" y2="969.14" stroke="#000" stroke-width="1.10"/>
<line x1="418.50" y1="967.05" x2="414.90" y2="967.05" stroke="#000" stroke-width="1.10"/>
<line x1="418.50" y1="965.23" x2="414.90" y2="965.23" stroke="#000" stroke-width="1.10"/>
<line x1="418.50" y1="963.63" x2="414.90" y2="963.63" stroke="#000" stroke-width="1.10"/>
<line x1="418.50" y1="993.50" x2="412.60" y2="993.50" stroke="#000" stroke-width="1.90"/>
<text x="386.70" y="874.40" font-size="15.80" textLength="19.80" lengthAdjust="spacingAndGlyphs">10</text>
<text x="406.40" y="869.80" font-size="11.20">9</text>
<text x="386.70" y="905.80" font-size="15.80" textLength="19.80" lengthAdjust="spacingAndGlyphs">10</text>
<text x="406.40" y="901.20" font-size="11.20">8</text>
<text x="386.70" y="937.10" font-size="15.80" textLength="19.80" lengthAdjust="spacingAndGlyphs">10</text>
<text x="406.40" y="932.50" font-size="11.20">7</text>
<text x="386.70" y="968.40" font-size="15.80" textLength="19.80" lengthAdjust="spacingAndGlyphs">10</text>
<text x="406.40" y="963.80" font-size="11.20">6</text>
<text x="386.70" y="999.70" font-size="15.80" textLength="19.80" lengthAdjust="spacingAndGlyphs">10</text>
<text x="406.40" y="995.10" font-size="11.20">5</text>
<line x1="443.30" y1="993.50" x2="443.30" y2="999.00" stroke="#000" stroke-width="1.40"/>
<line x1="480.50" y1="993.50" x2="480.50" y2="999.00" stroke="#000" stroke-width="1.40"/>
<line x1="518.50" y1="993.50" x2="518.50" y2="999.00" stroke="#000" stroke-width="1.40"/>
<text x="435.40" y="1015.70" font-size="13.40" textLength="21.00" lengthAdjust="spacingAndGlyphs">WT</text>
<text x="465.80" y="1015.70" font-size="13.40" textLength="25.20" lengthAdjust="spacingAndGlyphs">CC_</text>
<text x="497.90" y="1015.70" font-size="13.40" textLength="25.10" lengthAdjust="spacingAndGlyphs">PBS</text>
<text x="465.80" y="1031.40" font-size="13.40" textLength="23.60" lengthAdjust="spacingAndGlyphs">FLE</text>
<text x="435.40" y="1050.90" font-size="14.70" textLength="75.00" lengthAdjust="spacingAndGlyphs">Donor Sera</text>
<line x1="440.10" y1="840.30" x2="519.80" y2="840.30" stroke="#000" stroke-width="1.20"/>
<text x="450.80" y="835.60" font-size="12.60" textLength="50.20" lengthAdjust="spacingAndGlyphs">*p=0.030</text>
<line x1="439.80" y1="867.40" x2="492.80" y2="867.40" stroke="#000" stroke-width="1.20"/>
<text x="430.40" y="861.60" font-size="12.60" textLength="62.70" lengthAdjust="spacingAndGlyphs">**p=0.0087</text>
<line x1="468.10" y1="891.30" x2="521.50" y2="891.30" stroke="#000" stroke-width="1.20"/>
<text x="488.90" y="886.00" font-size="12.20">ns</text>
<line x1="443.30" y1="894.70" x2="443.30" y2="937.40" stroke="#6a6aff" stroke-width="1.00"/>
<line x1="437.10" y1="894.70" x2="449.50" y2="894.70" stroke="#6a6aff" stroke-width="1.00"/>
<line x1="437.10" y1="937.40" x2="449.50" y2="937.40" stroke="#6a6aff" stroke-width="1.00"/>
<circle cx="443.30" cy="882.80" r="3.50" fill="none" stroke="#2b2bff" stroke-width="1.70"/>
<circle cx="434.60" cy="916.30" r="3.50" fill="none" stroke="#2b2bff" stroke-width="1.70"/>
<circle cx="452.00" cy="914.10" r="3.50" fill="none" stroke="#2b2bff" stroke-width="1.70"/>
<circle cx="434.60" cy="935.70" r="3.50" fill="none" stroke="#2b2bff" stroke-width="1.70"/>
<circle cx="452.00" cy="933.20" r="3.50" fill="none" stroke="#2b2bff" stroke-width="1.70"/>
<line x1="430.90" y1="916.30" x2="455.70" y2="916.30" stroke="#000" stroke-width="1.30"/>
<line x1="480.50" y1="937.40" x2="480.50" y2="956.80" stroke="#f848d4" stroke-width="1.00"/>
<line x1="474.05" y1="937.40" x2="486.95" y2="937.40" stroke="#f848d4" stroke-width="1.00"/>
<line x1="474.05" y1="956.80" x2="486.95" y2="956.80" stroke="#f848d4" stroke-width="1.00"/>
<circle cx="480.50" cy="933.70" r="3.50" fill="none" stroke="#f848d4" stroke-width="1.60"/>
<circle cx="471.80" cy="941.90" r="3.50" fill="none" stroke="#f848d4" stroke-width="1.60"/>
<circle cx="489.20" cy="946.10" r="3.50" fill="none" stroke="#f848d4" stroke-width="1.60"/>
<circle cx="480.50" cy="947.40" r="3.50" fill="none" stroke="#f848d4" stroke-width="1.60"/>
<circle cx="489.20" cy="955.10" r="3.50" fill="none" stroke="#f848d4" stroke-width="1.60"/>
<circle cx="471.80" cy="959.80" r="3.50" fill="none" stroke="#f848d4" stroke-width="1.60"/>
<line x1="467.40" y1="947.40" x2="493.70" y2="947.40" stroke="#000" stroke-width="1.30"/>
<line x1="518.50" y1="927.50" x2="518.50" y2="954.80" stroke="#aaaaaa" stroke-width="1.00"/>
<line x1="512.05" y1="927.50" x2="524.95" y2="927.50" stroke="#aaaaaa" stroke-width="1.00"/>
<line x1="512.05" y1="954.80" x2="524.95" y2="954.80" stroke="#aaaaaa" stroke-width="1.00"/>
<path d="M518.50,923.00L522.50,930.20L514.50,930.20Z" fill="none" stroke="#999" stroke-width="1.40" stroke-linejoin="miter"/>
<path d="M509.10,933.20L513.10,940.40L505.10,940.40Z" fill="none" stroke="#999" stroke-width="1.40" stroke-linejoin="miter"/>
<path d="M518.50,930.70L522.50,937.90L514.50,937.90Z" fill="none" stroke="#999" stroke-width="1.40" stroke-linejoin="miter"/>
<path d="M527.70,933.20L531.70,940.40L523.70,940.40Z" fill="none" stroke="#999" stroke-width="1.40" stroke-linejoin="miter"/>
<path d="M518.50,947.60L522.50,954.80L514.50,954.80Z" fill="none" stroke="#999" stroke-width="1.40" stroke-linejoin="miter"/>
<path d="M518.50,960.70L522.50,967.90L514.50,967.90Z" fill="none" stroke="#999" stroke-width="1.40" stroke-linejoin="miter"/>
<line x1="505.30" y1="941.40" x2="531.40" y2="941.40" stroke="#000" stroke-width="1.30"/>
</svg>
</body></html>
